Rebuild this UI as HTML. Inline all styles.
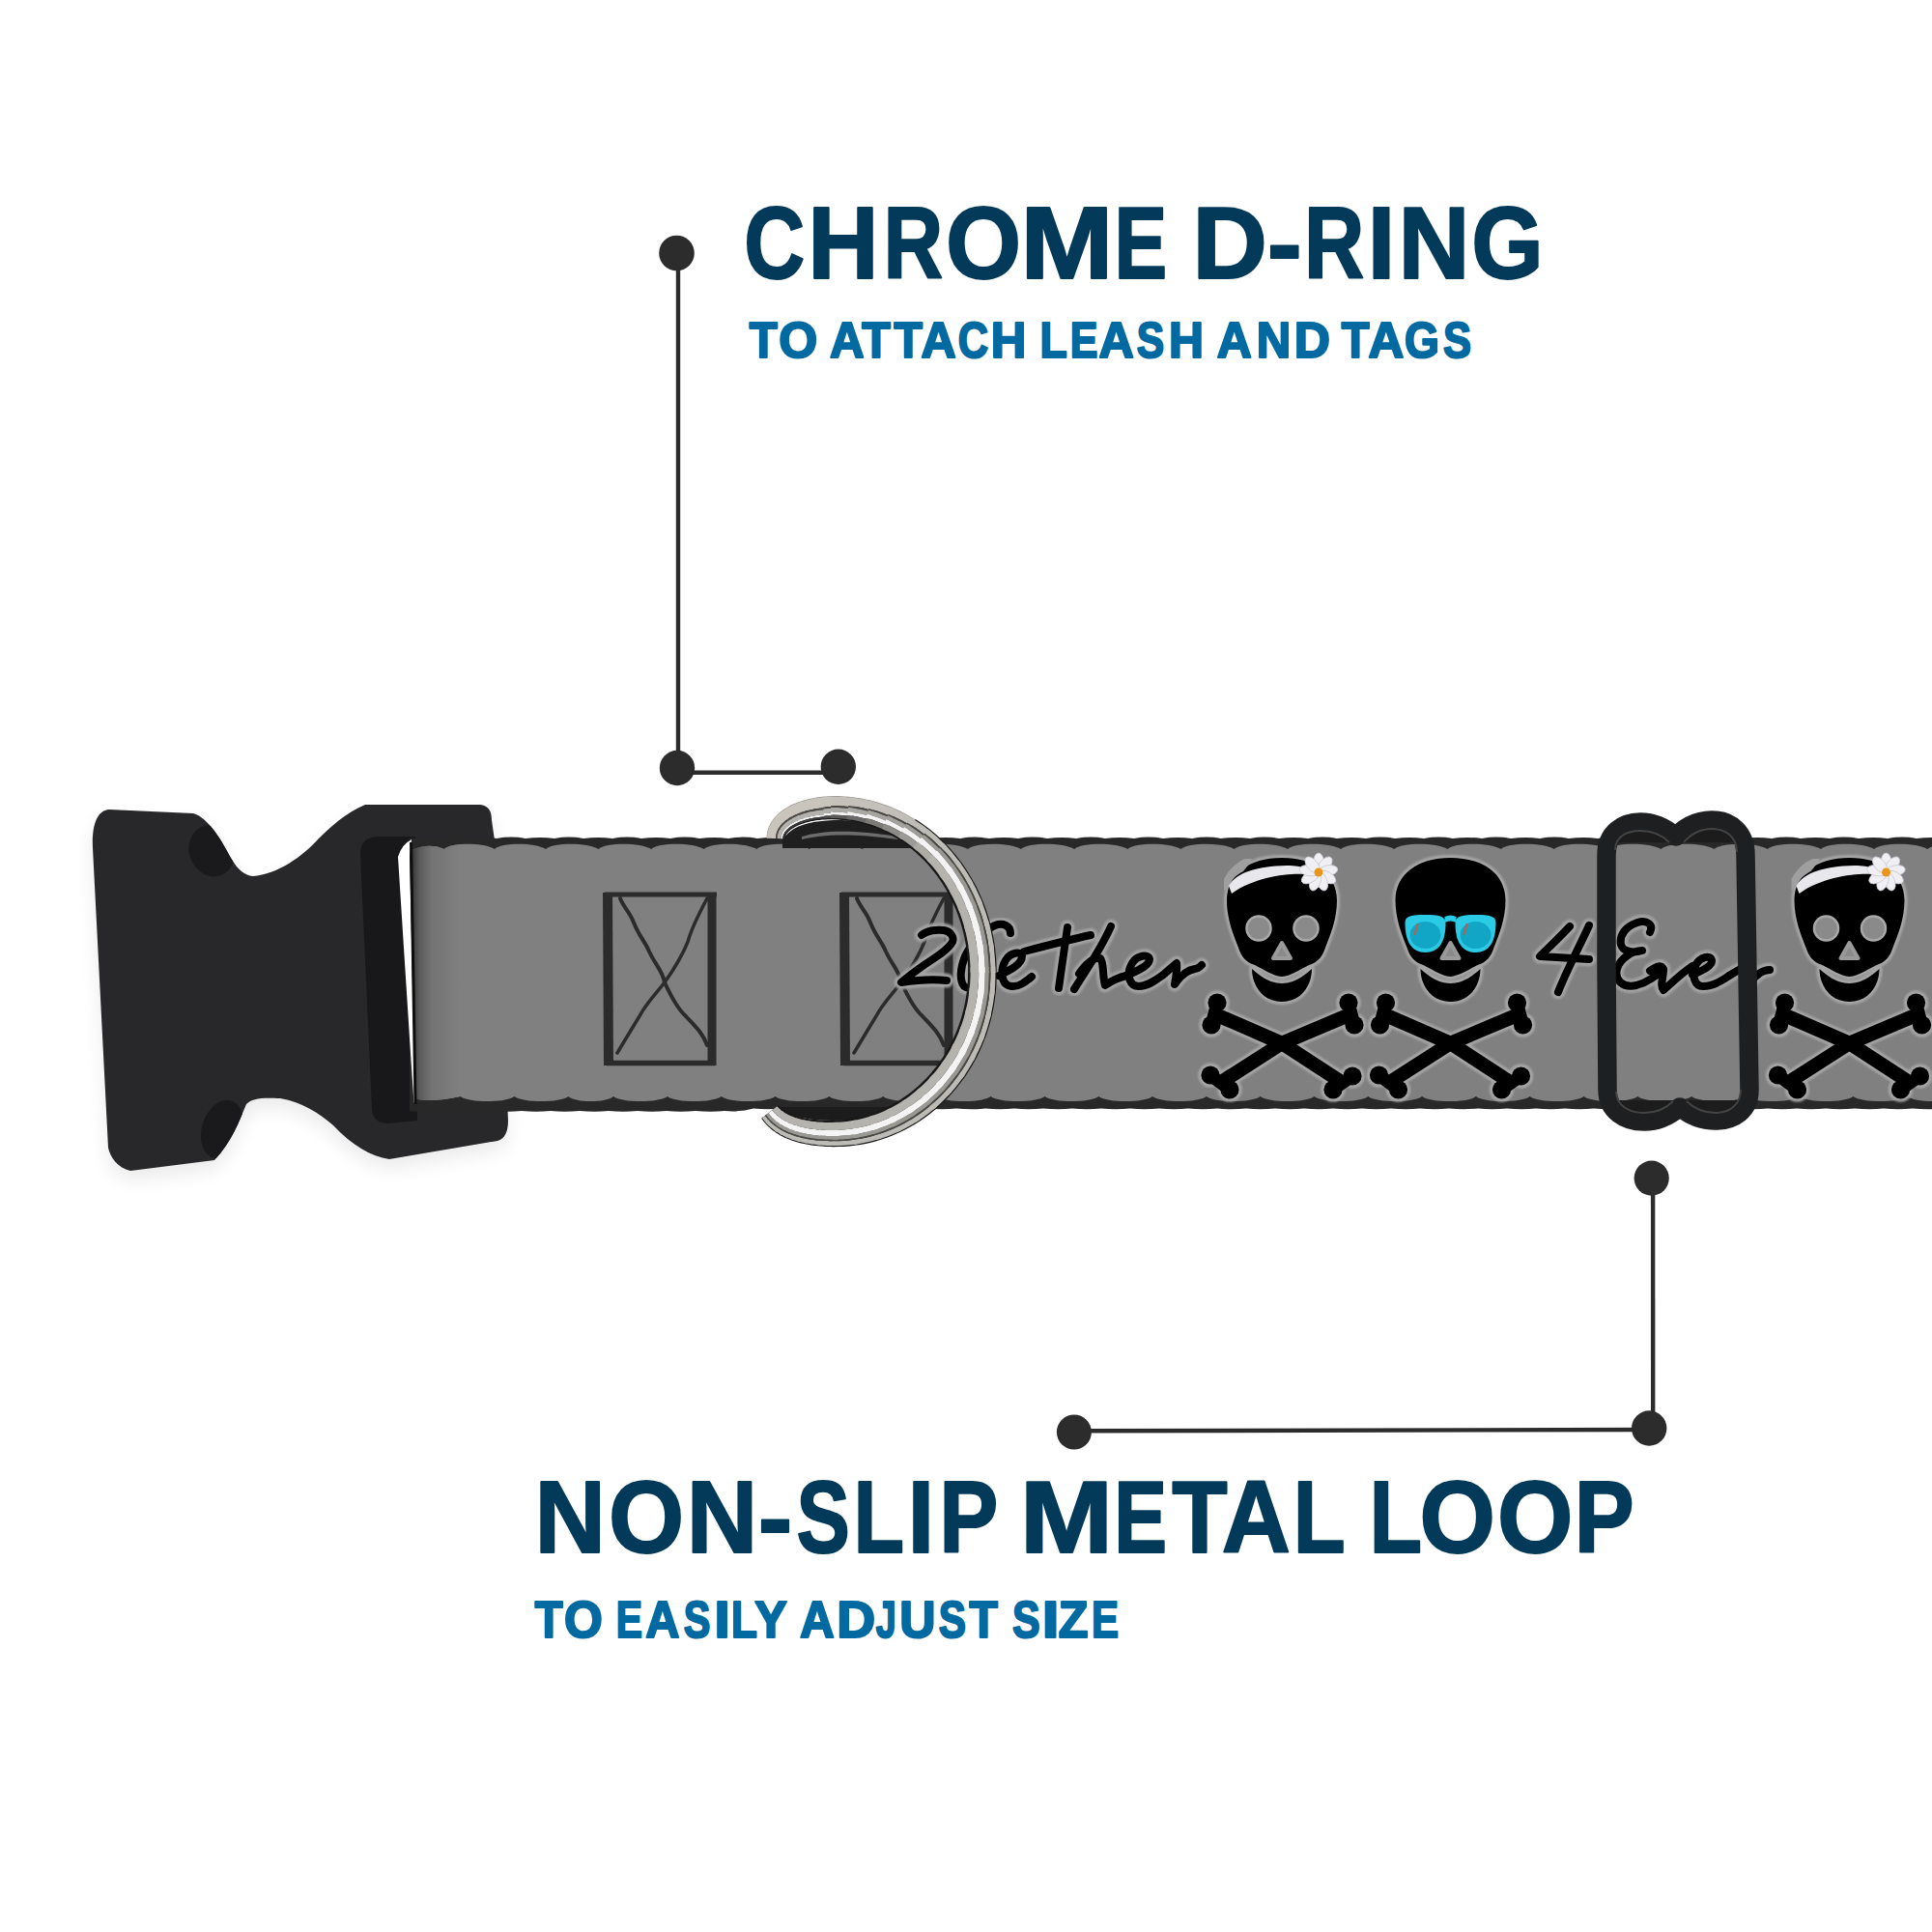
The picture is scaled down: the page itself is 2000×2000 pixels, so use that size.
<!DOCTYPE html>
<html><head><meta charset="utf-8"><style>
html,body{margin:0;padding:0;background:#fff;width:2000px;height:2000px;overflow:hidden}
svg{display:block}
.h{font-family:"Liberation Sans",sans-serif;font-weight:bold}
</style></head><body>
<svg width="2000" height="2000" viewBox="0 0 2000 2000">
<defs>
<linearGradient id="shL" x1="0" x2="1" y1="0" y2="0">
<stop offset="0" stop-color="#383838"/><stop offset="0.14" stop-color="#5a5a5a"/><stop offset="0.4" stop-color="#737373"/><stop offset="1" stop-color="#808080"/>
</linearGradient>
<filter id="blur1" x="-10%" y="-10%" width="120%" height="120%"><feGaussianBlur stdDeviation="1.1"/></filter>
<filter id="blur10" x="-20%" y="-20%" width="140%" height="140%"><feGaussianBlur stdDeviation="10"/></filter>
<clipPath id="bkclip"><path d="M113,838 L200,842 C212,845 225,862 235,881 C243,896 250,906 262,907 C287,905 313,887 330,868 C340,858 358,841 378,833 L497,833 Q509,834 509,849 L512,870 L526,1160 Q526,1178 515,1181 L403,1200 C384,1197 365,1186 345,1165 C330,1152 313,1141 290,1137 C270,1136 261,1137 255,1143 C248,1160 240,1182 222,1201 L135,1212 C122,1209 114,1198 112,1188 L96,878 C95,855 100,839 113,838 Z"/></clipPath>
<clipPath id="slclip"><rect x="1600" y="800" width="300" height="72"/><rect x="1600" y="1139" width="300" height="80"/></clipPath>
</defs>
<rect width="2000" height="2000" fill="#fff"/>

<g fill="#2c2c2c" stroke="#2c2c2c">
<line x1="702" y1="262" x2="702" y2="795" stroke-width="4.4"/>
<line x1="701" y1="799.7" x2="868" y2="799.7" stroke-width="4.4"/>
<circle cx="700.5" cy="262" r="18.3" stroke="none"/>
<circle cx="701" cy="795" r="18.2" stroke="none"/>
<circle cx="867.8" cy="793.8" r="18.2" stroke="none"/>
<line x1="1711.1" y1="1220" x2="1711.2" y2="1478" stroke-width="4.4"/>
<line x1="1112" y1="1481.3" x2="1707" y2="1480" stroke-width="4.4"/>
<circle cx="1709.7" cy="1219.6" r="18.1" stroke="none"/>
<circle cx="1111.9" cy="1482.5" r="18" stroke="none"/>
<circle cx="1707.2" cy="1478.5" r="18.2" stroke="none"/>
</g>

<g class="h">
<g font-size="105.67" fill="#033a5a" stroke="#033a5a" stroke-width="2.0" stroke-linejoin="round"><text transform="translate(770.25,288.0) scale(0.8257,1)" x="0" y="0">C</text><text transform="translate(836.36,288.0) scale(0.9622,1)" x="0" y="0">H</text><text transform="translate(914.39,288.0) scale(0.8093,1)" x="0" y="0">R</text><text transform="translate(979.03,288.0) scale(0.9506,1)" x="0" y="0">O</text><text transform="translate(1056.15,288.0) scale(1.0951,1)" x="0" y="0">M</text><text transform="translate(1153.59,288.0) scale(0.7767,1)" x="0" y="0">E</text><text transform="translate(1234.22,288.0) scale(1.0179,1)" x="0" y="0">D</text><text transform="translate(1311.69,288.0) scale(1.0267,1)" x="0" y="0">-</text><text transform="translate(1350.04,288.0) scale(0.8165,1)" x="0" y="0">R</text><text transform="translate(1415.41,288.0) scale(0.9872,1)" x="0" y="0">I</text><text transform="translate(1447.61,288.0) scale(0.9700,1)" x="0" y="0">N</text><text transform="translate(1523.18,288.0) scale(0.9058,1)" x="0" y="0">G</text></g>
<g font-size="52.47" fill="#036aa1" stroke="#036aa1" stroke-width="2.2" stroke-linejoin="round"><text transform="translate(775.86,369.5) scale(0.9064,1)" x="0" y="0">T</text><text transform="translate(806.37,369.5) scale(0.9804,1)" x="0" y="0">O</text><text transform="translate(859.01,369.5) scale(0.9411,1)" x="0" y="0">A</text><text transform="translate(892.17,369.5) scale(0.9245,1)" x="0" y="0">T</text><text transform="translate(925.47,369.5) scale(0.9215,1)" x="0" y="0">T</text><text transform="translate(953.60,369.5) scale(0.9571,1)" x="0" y="0">A</text><text transform="translate(991.83,369.5) scale(0.8245,1)" x="0" y="0">C</text><text transform="translate(1025.67,369.5) scale(0.9683,1)" x="0" y="0">H</text><text transform="translate(1076.57,369.5) scale(0.8858,1)" x="0" y="0">L</text><text transform="translate(1107.73,369.5) scale(0.8186,1)" x="0" y="0">E</text><text transform="translate(1137.50,369.5) scale(0.9571,1)" x="0" y="0">A</text><text transform="translate(1176.87,369.5) scale(0.8116,1)" x="0" y="0">S</text><text transform="translate(1210.10,369.5) scale(0.9532,1)" x="0" y="0">H</text><text transform="translate(1259.80,369.5) scale(0.9518,1)" x="0" y="0">A</text><text transform="translate(1300.64,369.5) scale(0.9380,1)" x="0" y="0">N</text><text transform="translate(1339.83,369.5) scale(0.9831,1)" x="0" y="0">D</text><text transform="translate(1388.86,369.5) scale(0.9003,1)" x="0" y="0">T</text><text transform="translate(1416.50,369.5) scale(0.9705,1)" x="0" y="0">A</text><text transform="translate(1454.07,369.5) scale(0.8828,1)" x="0" y="0">G</text><text transform="translate(1494.06,369.5) scale(0.8294,1)" x="0" y="0">S</text></g>
<g font-size="105.38" fill="#033a5a" stroke="#033a5a" stroke-width="2.0" stroke-linejoin="round"><text transform="translate(553.46,1606.8) scale(0.9648,1)" x="0" y="0">N</text><text transform="translate(630.03,1606.8) scale(0.9532,1)" x="0" y="0">O</text><text transform="translate(710.65,1606.8) scale(0.9664,1)" x="0" y="0">N</text><text transform="translate(784.84,1606.8) scale(1.0154,1)" x="0" y="0">-</text><text transform="translate(824.40,1606.8) scale(0.7876,1)" x="0" y="0">S</text><text transform="translate(883.56,1606.8) scale(0.8167,1)" x="0" y="0">L</text><text transform="translate(939.56,1606.8) scale(0.9488,1)" x="0" y="0">I</text><text transform="translate(972.14,1606.8) scale(0.8696,1)" x="0" y="0">P</text><text transform="translate(1055.85,1606.8) scale(1.0993,1)" x="0" y="0">M</text><text transform="translate(1153.28,1606.8) scale(0.7804,1)" x="0" y="0">E</text><text transform="translate(1213.24,1606.8) scale(0.8914,1)" x="0" y="0">T</text><text transform="translate(1264.78,1606.8) scale(0.9354,1)" x="0" y="0">A</text><text transform="translate(1338.83,1606.8) scale(0.8381,1)" x="0" y="0">L</text><text transform="translate(1417.57,1606.8) scale(0.8488,1)" x="0" y="0">L</text><text transform="translate(1469.62,1606.8) scale(0.9572,1)" x="0" y="0">O</text><text transform="translate(1549.92,1606.8) scale(0.9572,1)" x="0" y="0">O</text><text transform="translate(1629.77,1606.8) scale(0.8810,1)" x="0" y="0">P</text></g>
<g font-size="52.91" fill="#036aa1" stroke="#036aa1" stroke-width="2.2" stroke-linejoin="round"><text transform="translate(553.75,1694.7) scale(0.8934,1)" x="0" y="0">T</text><text transform="translate(584.06,1694.7) scale(0.9676,1)" x="0" y="0">O</text><text transform="translate(637.82,1694.7) scale(0.7716,1)" x="0" y="0">E</text><text transform="translate(668.20,1694.7) scale(0.9232,1)" x="0" y="0">A</text><text transform="translate(707.77,1694.7) scale(0.7818,1)" x="0" y="0">S</text><text transform="translate(739.42,1694.7) scale(1.0997,1)" x="0" y="0">I</text><text transform="translate(756.96,1694.7) scale(0.8347,1)" x="0" y="0">L</text><text transform="translate(781.19,1694.7) scale(0.9515,1)" x="0" y="0">Y</text><text transform="translate(828.00,1694.7) scale(0.9364,1)" x="0" y="0">A</text><text transform="translate(866.35,1694.7) scale(1.0448,1)" x="0" y="0">D</text><text transform="translate(906.81,1694.7) scale(0.7130,1)" x="0" y="0">J</text><text transform="translate(931.17,1694.7) scale(0.9764,1)" x="0" y="0">U</text><text transform="translate(971.86,1694.7) scale(0.7995,1)" x="0" y="0">S</text><text transform="translate(1003.46,1694.7) scale(0.9114,1)" x="0" y="0">T</text><text transform="translate(1047.96,1694.7) scale(0.8113,1)" x="0" y="0">S</text><text transform="translate(1078.87,1694.7) scale(1.2015,1)" x="0" y="0">I</text><text transform="translate(1095.85,1694.7) scale(0.9517,1)" x="0" y="0">Z</text><text transform="translate(1130.06,1694.7) scale(0.7935,1)" x="0" y="0">E</text></g>
</g>

<path d="M113,838 L200,842 C212,845 225,862 235,881 C243,896 250,906 262,907 C287,905 313,887 330,868 C340,858 358,841 378,833 L497,833 Q509,834 509,849 L512,870 L526,1160 Q526,1178 515,1181 L403,1200 C384,1197 365,1186 345,1165 C330,1152 313,1141 290,1137 C270,1136 261,1137 255,1143 C248,1160 240,1182 222,1201 L135,1212 C122,1209 114,1198 112,1188 L96,878 C95,855 100,839 113,838 Z" fill="#000" opacity="0.08" transform="translate(0,10)" filter="url(#blur10)"/>
<path d="M113,838 L200,842 C212,845 225,862 235,881 C243,896 250,906 262,907 C287,905 313,887 330,868 C340,858 358,841 378,833 L497,833 Q509,834 509,849 L512,870 L526,1160 Q526,1178 515,1181 L403,1200 C384,1197 365,1186 345,1165 C330,1152 313,1141 290,1137 C270,1136 261,1137 255,1143 C248,1160 240,1182 222,1201 L135,1212 C122,1209 114,1198 112,1188 L96,878 C95,855 100,839 113,838 Z" fill="#28282a"/>
<g clip-path="url(#bkclip)">
<ellipse cx="219" cy="881" rx="23" ry="27" fill="#1a1a1c" transform="rotate(-22 219 881)"/>
<ellipse cx="230" cy="1169" rx="21" ry="31" fill="#1a1a1c" transform="rotate(18 230 1169)"/>
<path d="M373,884 Q373,866 392,866 L430,866 L432,1160 L402,1163 Q386,1163 385,1148 Z" fill="#18181a"/>
</g>

<path d="M424,868 Q439,866 454,868 Q469,865.2 484,868 Q499,866 514,868 Q529,865.2 544,868 Q559,866 574,868 Q589,865.2 604,868 Q619,866 634,868 Q649,865.2 664,868 Q679,866 694,868 Q709,865.2 724,868 Q739,866 754,868 Q769,865.2 784,868 Q799,866 814,868 Q829,865.2 844,868 Q859,866 874,868 Q889,865.2 904,868 Q919,866 934,868 Q949,865.2 964,868 Q979,866 994,868 Q1009,865.2 1024,868 Q1039,866 1054,868 Q1069,865.2 1084,868 Q1099,866 1114,868 Q1129,865.2 1144,868 Q1159,866 1174,868 Q1189,865.2 1204,868 Q1219,866 1234,868 Q1249,865.2 1264,868 Q1279,866 1294,868 Q1309,865.2 1324,868 Q1339,866 1354,868 Q1369,865.2 1384,868 Q1399,866 1414,868 Q1429,865.2 1444,868 Q1459,866 1474,868 Q1489,865.2 1504,868 Q1519,866 1534,868 Q1549,865.2 1564,868 Q1579,866 1594,868 Q1609,865.2 1624,868 Q1639,866 1654,868 Q1669,865.2 1684,868 Q1699,866 1714,868 Q1729,865.2 1744,868 Q1759,866 1774,868 Q1789,865.2 1804,868 Q1819,866 1834,868 Q1849,865.2 1864,868 Q1879,866 1894,868 Q1909,865.2 1924,868 Q1939,866 1954,868 Q1969,865.2 1984,868 Q1999,866 2014,868 Q2029,865.2 2044,868 Q2059,866 2074,868 Q2089,865.2 2104,868 L2100,1146 Q2085,1149.0 2070,1147.5 Q2055,1149.0 2040,1147.5 Q2025,1149.0 2010,1147.5 Q1995,1149.0 1980,1147.5 Q1965,1149.0 1950,1147.5 Q1935,1149.0 1920,1147.5 Q1905,1149.0 1890,1147.5 Q1875,1149.0 1860,1147.5 Q1845,1149.0 1830,1147.5 Q1815,1149.0 1800,1147.5 Q1785,1149.0 1770,1147.5 Q1755,1149.0 1740,1147.5 Q1725,1149.0 1710,1147.5 Q1695,1149.0 1680,1147.5 Q1665,1149.0 1650,1147.5 Q1635,1149.0 1620,1147.5 Q1605,1149.0 1590,1147.5 Q1575,1149.0 1560,1147.5 Q1545,1149.0 1530,1147.5 Q1515,1149.0 1500,1147.5 Q1485,1149.0 1470,1147.5 Q1455,1149.0 1440,1147.5 Q1425,1149.0 1410,1147.5 Q1395,1149.0 1380,1147.5 Q1365,1149.0 1350,1147.5 Q1335,1149.0 1320,1147.5 Q1305,1149.0 1290,1147.5 Q1275,1149.0 1260,1147.5 Q1245,1149.0 1230,1147.5 Q1215,1149.0 1200,1147.5 Q1185,1149.0 1170,1147.5 Q1155,1149.0 1140,1147.5 Q1125,1149.0 1110,1147.5 Q1095,1149.0 1080,1147.5 Q1065,1149.0 1050,1147.5 Q1035,1149.0 1020,1147.5 Q1005,1149.0 990,1147.5 Q975,1149.0 960,1147.5 Q945,1149.0 930,1147.5 Q915,1149.0 900,1147.5 Q885,1149.0 870,1147.5 Q855,1149.0 840,1147.5 Q825,1149.0 810,1147.5 Q795,1149.0 780,1147.5 Q765,1151.5 750,1150 Q735,1151.5 720,1150 Q705,1151.5 690,1150 Q675,1151.5 660,1150 Q645,1151.5 630,1150 Q615,1151.5 600,1150 Q585,1151.5 570,1150 Q555,1151.5 540,1150 Q525,1151.5 510,1150 Q495,1151.5 480,1150 Q465,1151.5 450,1150 Q435,1151.5 420,1150 L424,1150 Z" fill="#282828"/>
<path d="M426,880 Q445,872 460,879 C466.2,872.2 500.6,871.6 512,879 C518.4,872.2 553.3,871.6 565,879 C571.6,872.2 607.6,871.6 619.6,879 C626.2,872.2 662.2,871.6 674.2,879 C680.8,872.2 716.8,871.6 728.8,879 C735.4,872.2 771.4,871.6 783.4,879 C790,872.2 826,871.6 838,879 C844.6,872.2 880.6,871.6 892.6,879 C899.2,872.2 935.2,871.6 947.2,879 C953.8,872.2 989.8,871.6 1001.8,879 C1008.4,872.2 1044.9,871.6 1057,879 C1063.6,872.2 1100.1,871.6 1112.2,879 C1118.8,872.2 1155.3,871.6 1167.4,879 C1174,872.2 1210.5,871.6 1222.6,879 C1229.2,872.2 1265.7,871.6 1277.8,879 C1284.4,872.2 1320.9,871.6 1333,879 C1339.6,872.2 1376.1,871.6 1388.2,879 C1394.8,872.2 1431.3,871.6 1443.4,879 C1450,872.2 1486.5,871.6 1498.6,879 C1505.2,872.2 1541.7,871.6 1553.8,879 C1560.4,872.2 1596.9,871.6 1609,879 C1615.6,872.2 1652.1,871.6 1664.2,879 C1670.8,872.2 1707.3,871.6 1719.4,879 C1726,872.2 1762.5,871.6 1774.6,879 C1781.2,872.2 1817.7,871.6 1829.8,879 C1836.4,872.2 1872.9,871.6 1885,879 C1891.6,872.2 1928.1,871.6 1940.2,879 C1946.8,872.2 1983.3,871.6 1995.4,879 C2002,872.2 2038.5,871.6 2050.6,879 C2057.2,872.2 2093.7,871.6 2105.8,879 L2100,1140 C2133.3,1141.8 2094.3,1141.8 2085.9,1135 C2077.5,1141.8 2038.5,1141.8 2030.1,1135 C2021.7,1141.8 1982.7,1141.8 1974.3,1135 C1965.9,1141.8 1926.9,1141.8 1918.5,1135 C1910.1,1141.8 1871.1,1141.8 1862.7,1135 C1854.3,1141.8 1815.3,1141.8 1806.9,1135 C1798.5,1141.8 1759.5,1141.8 1751.1,1135 C1742.7,1141.8 1703.7,1141.8 1695.3,1135 C1686.9,1141.8 1647.9,1141.8 1639.5,1135 C1631.1,1141.8 1592.1,1141.8 1583.7,1135 C1575.3,1141.8 1536.3,1141.8 1527.9,1135 C1519.5,1141.8 1480.5,1141.8 1472.1,1135 C1463.7,1141.8 1424.7,1141.8 1416.3,1135 C1407.9,1141.8 1368.9,1141.8 1360.5,1135 C1352.1,1141.8 1313.1,1141.8 1304.7,1135 C1296.3,1141.8 1257.3,1141.8 1248.9,1135 C1240.5,1141.8 1201.5,1141.8 1193.1,1135 C1184.7,1141.8 1145.7,1141.8 1137.3,1135 C1128.9,1141.8 1089.9,1141.8 1081.5,1135 C1073.1,1141.8 1034.1,1141.8 1025.7,1135 C1017.3,1141.8 978.3,1141.8 969.9,1135 C961.5,1141.8 922.5,1141.8 914.1,1135 C905.7,1141.8 866.7,1141.8 858.3,1135 C849.9,1141.8 810.9,1141.8 802.5,1135 C794.1,1141.8 755.1,1141.8 746.7,1135 C738.3,1141.8 699.3,1141.8 690.9,1135 C682.5,1141.8 643.4,1141.8 635,1135 C628,1141.8 595.4,1141.8 588.4,1135 C580,1141.8 540.9,1141.8 532.5,1135 C524.1,1141.8 485,1141.8 476.6,1135 Q450,1141 432,1138 L429,1138 Z" fill="#808080"/>
<clipPath id="sgclip"><path d="M426,880 Q445,872 460,879 C466.2,872.2 500.6,871.6 512,879 C518.4,872.2 553.3,871.6 565,879 C571.6,872.2 607.6,871.6 619.6,879 C626.2,872.2 662.2,871.6 674.2,879 C680.8,872.2 716.8,871.6 728.8,879 C735.4,872.2 771.4,871.6 783.4,879 C790,872.2 826,871.6 838,879 C844.6,872.2 880.6,871.6 892.6,879 C899.2,872.2 935.2,871.6 947.2,879 C953.8,872.2 989.8,871.6 1001.8,879 C1008.4,872.2 1044.9,871.6 1057,879 C1063.6,872.2 1100.1,871.6 1112.2,879 C1118.8,872.2 1155.3,871.6 1167.4,879 C1174,872.2 1210.5,871.6 1222.6,879 C1229.2,872.2 1265.7,871.6 1277.8,879 C1284.4,872.2 1320.9,871.6 1333,879 C1339.6,872.2 1376.1,871.6 1388.2,879 C1394.8,872.2 1431.3,871.6 1443.4,879 C1450,872.2 1486.5,871.6 1498.6,879 C1505.2,872.2 1541.7,871.6 1553.8,879 C1560.4,872.2 1596.9,871.6 1609,879 C1615.6,872.2 1652.1,871.6 1664.2,879 C1670.8,872.2 1707.3,871.6 1719.4,879 C1726,872.2 1762.5,871.6 1774.6,879 C1781.2,872.2 1817.7,871.6 1829.8,879 C1836.4,872.2 1872.9,871.6 1885,879 C1891.6,872.2 1928.1,871.6 1940.2,879 C1946.8,872.2 1983.3,871.6 1995.4,879 C2002,872.2 2038.5,871.6 2050.6,879 C2057.2,872.2 2093.7,871.6 2105.8,879 L2100,1140 C2133.3,1141.8 2094.3,1141.8 2085.9,1135 C2077.5,1141.8 2038.5,1141.8 2030.1,1135 C2021.7,1141.8 1982.7,1141.8 1974.3,1135 C1965.9,1141.8 1926.9,1141.8 1918.5,1135 C1910.1,1141.8 1871.1,1141.8 1862.7,1135 C1854.3,1141.8 1815.3,1141.8 1806.9,1135 C1798.5,1141.8 1759.5,1141.8 1751.1,1135 C1742.7,1141.8 1703.7,1141.8 1695.3,1135 C1686.9,1141.8 1647.9,1141.8 1639.5,1135 C1631.1,1141.8 1592.1,1141.8 1583.7,1135 C1575.3,1141.8 1536.3,1141.8 1527.9,1135 C1519.5,1141.8 1480.5,1141.8 1472.1,1135 C1463.7,1141.8 1424.7,1141.8 1416.3,1135 C1407.9,1141.8 1368.9,1141.8 1360.5,1135 C1352.1,1141.8 1313.1,1141.8 1304.7,1135 C1296.3,1141.8 1257.3,1141.8 1248.9,1135 C1240.5,1141.8 1201.5,1141.8 1193.1,1135 C1184.7,1141.8 1145.7,1141.8 1137.3,1135 C1128.9,1141.8 1089.9,1141.8 1081.5,1135 C1073.1,1141.8 1034.1,1141.8 1025.7,1135 C1017.3,1141.8 978.3,1141.8 969.9,1135 C961.5,1141.8 922.5,1141.8 914.1,1135 C905.7,1141.8 866.7,1141.8 858.3,1135 C849.9,1141.8 810.9,1141.8 802.5,1135 C794.1,1141.8 755.1,1141.8 746.7,1135 C738.3,1141.8 699.3,1141.8 690.9,1135 C682.5,1141.8 643.4,1141.8 635,1135 C628,1141.8 595.4,1141.8 588.4,1135 C580,1141.8 540.9,1141.8 532.5,1135 C524.1,1141.8 485,1141.8 476.6,1135 Q450,1141 432,1138 L429,1138 Z"/></clipPath><rect x="427" y="868" width="50" height="276" fill="url(#shL)" clip-path="url(#sgclip)"/>
<path d="M426,869 Q416,874 412,887 L416,950 L425,1090 L428.5,1142 L431,1142 L428.5,1090 L425.5,950 L424,887 Z" fill="#fff"/>
<path d="M424,872 L427,872 L431.5,1143 L428.5,1143 Z" fill="#0e0e0e"/>

<g fill="none" stroke="#2c2b2b" stroke-linejoin="miter"><path d="M626,926 L742,926" stroke-width="5"/><path d="M628,1100.5 L740,1100.5" stroke-width="5.5"/><path d="M629,924 L630,1103" stroke-width="10"/><path d="M737,924 L737,1103" stroke-width="9"/><path d="M642,930 C646,940 652,944 656,955 C662,970 668,975 672,985 C679,1000 686,1005 688,1017 C694,1030 702,1045 710,1052 C720,1063 728,1070 732,1082" stroke-width="4" stroke-linecap="round"/><path d="M732,930 C724,945 716,960 712,975 C706,990 700,1000 688,1017 C678,1030 668,1040 662,1052 C654,1065 648,1075 639,1090" stroke-width="3.5" stroke-linecap="round"/></g>
<g fill="none" stroke="#2c2b2b" stroke-linejoin="miter"><path d="M871,926 L987,926" stroke-width="5"/><path d="M873,1100.5 L985,1100.5" stroke-width="5.5"/><path d="M874,924 L875,1103" stroke-width="10"/><path d="M982,924 L982,1103" stroke-width="9"/><path d="M887,930 C891,940 897,944 901,955 C907,970 913,975 917,985 C924,1000 931,1005 933,1017 C939,1030 947,1045 955,1052 C965,1063 973,1070 977,1082" stroke-width="4" stroke-linecap="round"/><path d="M977,930 C969,945 961,960 957,975 C951,990 945,1000 933,1017 C923,1030 913,1040 907,1052 C899,1065 893,1075 884,1090" stroke-width="3.5" stroke-linecap="round"/></g>

<g filter="url(#blur1)" fill="none" stroke="#a3a3a3" stroke-width="14.5" stroke-linecap="round" stroke-linejoin="round"><path d="M954,968 C960,963 970,962 977,963 C984,964 988,970 986,975 C982,983 970,990 958,998 C948,1005 940,1011 933,1017 C946,1015 962,1013 980,1015"/><path d="M1046,966 C1046,958 1038,955 1030,958 C1018,963 1006,975 999,990 C994,1002 993,1015 998,1021 C1003,1025 1010,1020 1014,1012"/><path d="M1034,1010 C1046,1004 1058,998 1058,990 C1057,984 1046,986 1041,994 C1035,1004 1036,1020 1047,1021 C1055,1022 1062,1016 1068,1011"/><path d="M1105,960 C1102,980 1099,1002 1096,1023"/><path d="M1060,985 C1083,979 1106,973 1129,968"/><path d="M1150,959 C1140,982 1124,1005 1112,1024"/><path d="M1117,1008 C1124,998 1133,990 1139,992 C1143,996 1141,1010 1144,1020 C1150,1016 1157,1012 1166,1010"/><path d="M1166,1010 C1177,1005 1190,1000 1190,993 C1189,987 1177,989 1172,997 C1166,1007 1168,1021 1179,1021 C1188,1021 1196,1015 1203,1010"/><path d="M1203,1010 C1208,1006 1213,1001 1218,997 C1219,1004 1217,1012 1216,1019 C1222,1010 1230,1004 1237,1003 C1240,1003 1242,1001 1244,999"/></g><g fill="none" stroke="#000" stroke-width="8" stroke-linecap="round" stroke-linejoin="round"><path d="M954,968 C960,963 970,962 977,963 C984,964 988,970 986,975 C982,983 970,990 958,998 C948,1005 940,1011 933,1017 C946,1015 962,1013 980,1015"/><path d="M1046,966 C1046,958 1038,955 1030,958 C1018,963 1006,975 999,990 C994,1002 993,1015 998,1021 C1003,1025 1010,1020 1014,1012"/><path d="M1034,1010 C1046,1004 1058,998 1058,990 C1057,984 1046,986 1041,994 C1035,1004 1036,1020 1047,1021 C1055,1022 1062,1016 1068,1011"/><path d="M1105,960 C1102,980 1099,1002 1096,1023"/><path d="M1060,985 C1083,979 1106,973 1129,968"/><path d="M1150,959 C1140,982 1124,1005 1112,1024"/><path d="M1117,1008 C1124,998 1133,990 1139,992 C1143,996 1141,1010 1144,1020 C1150,1016 1157,1012 1166,1010"/><path d="M1166,1010 C1177,1005 1190,1000 1190,993 C1189,987 1177,989 1172,997 C1166,1007 1168,1021 1179,1021 C1188,1021 1196,1015 1203,1010"/><path d="M1203,1010 C1208,1006 1213,1001 1218,997 C1219,1004 1217,1012 1216,1019 C1222,1010 1230,1004 1237,1003 C1240,1003 1242,1001 1244,999"/></g>
<g filter="url(#blur1)" fill="none" stroke="#a3a3a3" stroke-width="14.5" stroke-linecap="round" stroke-linejoin="round"><path d="M1625,959 C1615,970 1604,980 1594,990 C1612,991 1628,992 1645,993"/><path d="M1645,958 C1635,980 1622,1004 1613,1027"/><path d="M1708,965 C1712,957 1705,952 1695,955 C1683,959 1676,968 1678,978 C1680,985 1690,987 1700,984 C1690,984 1677,992 1674,1003 C1671,1015 1680,1023 1694,1020 C1705,1017 1715,1010 1722,1003"/><path d="M1708,1005 C1715,1000 1720,998 1722,1004 C1722,1012 1718,1020 1722,1025 C1730,1018 1740,1008 1752,1000"/><path d="M1752,1009 C1762,1005 1773,1000 1772,994 C1770,988 1760,991 1756,998 C1751,1007 1753,1021 1763,1021 C1772,1021 1783,1015 1790,1010"/><path d="M1790,1010 C1798,1005 1806,1000 1812,1000 C1812,1008 1810,1016 1809,1022 C1815,1012 1822,1004 1832,1004"/></g><g fill="none" stroke="#000" stroke-width="8" stroke-linecap="round" stroke-linejoin="round"><path d="M1625,959 C1615,970 1604,980 1594,990 C1612,991 1628,992 1645,993"/><path d="M1645,958 C1635,980 1622,1004 1613,1027"/><path d="M1708,965 C1712,957 1705,952 1695,955 C1683,959 1676,968 1678,978 C1680,985 1690,987 1700,984 C1690,984 1677,992 1674,1003 C1671,1015 1680,1023 1694,1020 C1705,1017 1715,1010 1722,1003"/><path d="M1708,1005 C1715,1000 1720,998 1722,1004 C1722,1012 1718,1020 1722,1025 C1730,1018 1740,1008 1752,1000"/><path d="M1752,1009 C1762,1005 1773,1000 1772,994 C1770,988 1760,991 1756,998 C1751,1007 1753,1021 1763,1021 C1772,1021 1783,1015 1790,1010"/><path d="M1790,1010 C1798,1005 1806,1000 1812,1000 C1812,1008 1810,1016 1809,1022 C1815,1012 1822,1004 1832,1004"/></g>

<g filter="url(#blur1)"><g fill="#a7a7a7" stroke="#a7a7a7" stroke-width="6" stroke-linejoin="round"><path d="M1327,888 C1361,888 1384,905 1384,932 C1384,952 1377,968 1372,981 C1369,990 1365,996 1355,999 C1345,1004 1337,1010 1327,1011 C1317,1010 1309,1004 1299,999 C1289,996 1285,990 1282,981 C1277,968 1270,952 1270,932 C1270,905 1293,888 1327,888 Z"/><path d="M1296,1003 C1307,1013 1317,1018 1327,1018 C1337,1018 1347,1013 1358,1003 C1358,1020 1347,1037 1327,1037 C1307,1037 1296,1020 1296,1003 Z"/><circle cx="1260" cy="1038" r="9.6"/><circle cx="1254" cy="1061" r="9.6"/><circle cx="1396" cy="1038" r="9.6"/><circle cx="1402" cy="1061" r="9.6"/><circle cx="1253" cy="1113" r="9.6"/><circle cx="1273" cy="1128" r="9.6"/><circle cx="1400" cy="1114" r="9.6"/><circle cx="1380" cy="1128" r="9.6"/></g><g fill="none" stroke="#a7a7a7" stroke-width="20" stroke-linejoin="round"><path d="M1258,1050 L1327,1080 L1390,1121"/><path d="M1398,1050 L1327,1080 L1263,1121"/><path d="M1260,1038 L1254,1061 M1396,1038 L1402,1061 M1253,1113 L1273,1128 M1400,1114 L1380,1128 " stroke-width="13" stroke-linecap="round"/></g></g><g fill="#000"><path d="M1327,888 C1361,888 1384,905 1384,932 C1384,952 1377,968 1372,981 C1369,990 1365,996 1355,999 C1345,1004 1337,1010 1327,1011 C1317,1010 1309,1004 1299,999 C1289,996 1285,990 1282,981 C1277,968 1270,952 1270,932 C1270,905 1293,888 1327,888 Z"/><path d="M1296,1003 C1307,1013 1317,1018 1327,1018 C1337,1018 1347,1013 1358,1003 C1358,1020 1347,1037 1327,1037 C1307,1037 1296,1020 1296,1003 Z"/><circle cx="1260" cy="1038" r="9.6"/><circle cx="1254" cy="1061" r="9.6"/><circle cx="1396" cy="1038" r="9.6"/><circle cx="1402" cy="1061" r="9.6"/><circle cx="1253" cy="1113" r="9.6"/><circle cx="1273" cy="1128" r="9.6"/><circle cx="1400" cy="1114" r="9.6"/><circle cx="1380" cy="1128" r="9.6"/></g><g fill="none" stroke="#000" stroke-width="14.5" stroke-linejoin="round"><path d="M1258,1050 L1327,1080 L1390,1121"/><path d="M1398,1050 L1327,1080 L1263,1121"/><path d="M1260,1038 L1254,1061 M1396,1038 L1402,1061 M1253,1113 L1273,1128 M1400,1114 L1380,1128 " stroke-width="13" stroke-linecap="round"/></g><g fill="#8a8a8a" stroke="#a9a9a9" stroke-width="2.5"><circle cx="1303" cy="961" r="12.5"/><circle cx="1352" cy="961" r="12.5"/></g><g fill="#8a8a8a" stroke="#9a9a9a" stroke-width="4" stroke-linejoin="round"><path d="M1327,976 L1318,992 L1336,992 Z"/></g><path d="M1267,922 L1267,910 C1271,902 1279,893 1289,889 L1296,889 C1294,893 1291,897 1287,902 C1281,905 1275,910 1272,917 Z" fill="#9f9f9f"/><path d="M1272,917 C1280,903 1300,897 1332,896 C1341,896 1347,897 1351,899 L1350,905 C1332,904 1299,908 1275,925 Z" fill="#e8e8ec"/><g transform="translate(1365,903)"><ellipse cx="0" cy="-10" rx="5.5" ry="10" fill="#f0f0f4" stroke="#c8c8d2" stroke-width="0.8" transform="rotate(0)"/><ellipse cx="0" cy="-10" rx="5.5" ry="10" fill="#f0f0f4" stroke="#c8c8d2" stroke-width="0.8" transform="rotate(40)"/><ellipse cx="0" cy="-10" rx="5.5" ry="10" fill="#f0f0f4" stroke="#c8c8d2" stroke-width="0.8" transform="rotate(80)"/><ellipse cx="0" cy="-10" rx="5.5" ry="10" fill="#f0f0f4" stroke="#c8c8d2" stroke-width="0.8" transform="rotate(120)"/><ellipse cx="0" cy="-10" rx="5.5" ry="10" fill="#f0f0f4" stroke="#c8c8d2" stroke-width="0.8" transform="rotate(160)"/><ellipse cx="0" cy="-10" rx="5.5" ry="10" fill="#f0f0f4" stroke="#c8c8d2" stroke-width="0.8" transform="rotate(200)"/><ellipse cx="0" cy="-10" rx="5.5" ry="10" fill="#f0f0f4" stroke="#c8c8d2" stroke-width="0.8" transform="rotate(240)"/><ellipse cx="0" cy="-10" rx="5.5" ry="10" fill="#f0f0f4" stroke="#c8c8d2" stroke-width="0.8" transform="rotate(280)"/><ellipse cx="0" cy="-10" rx="5.5" ry="10" fill="#f0f0f4" stroke="#c8c8d2" stroke-width="0.8" transform="rotate(320)"/><circle r="4.5" fill="#e8961e"/></g>
<g filter="url(#blur1)"><g fill="#a7a7a7" stroke="#a7a7a7" stroke-width="6" stroke-linejoin="round"><path d="M1501.5,888 C1535.5,888 1558.5,905 1558.5,932 C1558.5,952 1551.5,968 1546.5,981 C1543.5,990 1539.5,996 1529.5,999 C1519.5,1004 1511.5,1010 1501.5,1011 C1491.5,1010 1483.5,1004 1473.5,999 C1463.5,996 1459.5,990 1456.5,981 C1451.5,968 1444.5,952 1444.5,932 C1444.5,905 1467.5,888 1501.5,888 Z"/><path d="M1470.5,1003 C1481.5,1013 1491.5,1018 1501.5,1018 C1511.5,1018 1521.5,1013 1532.5,1003 C1532.5,1020 1521.5,1037 1501.5,1037 C1481.5,1037 1470.5,1020 1470.5,1003 Z"/><circle cx="1434.5" cy="1038" r="9.6"/><circle cx="1428.5" cy="1061" r="9.6"/><circle cx="1570.5" cy="1038" r="9.6"/><circle cx="1576.5" cy="1061" r="9.6"/><circle cx="1427.5" cy="1113" r="9.6"/><circle cx="1447.5" cy="1128" r="9.6"/><circle cx="1574.5" cy="1114" r="9.6"/><circle cx="1554.5" cy="1128" r="9.6"/></g><g fill="none" stroke="#a7a7a7" stroke-width="20" stroke-linejoin="round"><path d="M1432.5,1050 L1501.5,1080 L1564.5,1121"/><path d="M1572.5,1050 L1501.5,1080 L1437.5,1121"/><path d="M1434.5,1038 L1428.5,1061 M1570.5,1038 L1576.5,1061 M1427.5,1113 L1447.5,1128 M1574.5,1114 L1554.5,1128 " stroke-width="13" stroke-linecap="round"/></g></g><g fill="#000"><path d="M1501.5,888 C1535.5,888 1558.5,905 1558.5,932 C1558.5,952 1551.5,968 1546.5,981 C1543.5,990 1539.5,996 1529.5,999 C1519.5,1004 1511.5,1010 1501.5,1011 C1491.5,1010 1483.5,1004 1473.5,999 C1463.5,996 1459.5,990 1456.5,981 C1451.5,968 1444.5,952 1444.5,932 C1444.5,905 1467.5,888 1501.5,888 Z"/><path d="M1470.5,1003 C1481.5,1013 1491.5,1018 1501.5,1018 C1511.5,1018 1521.5,1013 1532.5,1003 C1532.5,1020 1521.5,1037 1501.5,1037 C1481.5,1037 1470.5,1020 1470.5,1003 Z"/><circle cx="1434.5" cy="1038" r="9.6"/><circle cx="1428.5" cy="1061" r="9.6"/><circle cx="1570.5" cy="1038" r="9.6"/><circle cx="1576.5" cy="1061" r="9.6"/><circle cx="1427.5" cy="1113" r="9.6"/><circle cx="1447.5" cy="1128" r="9.6"/><circle cx="1574.5" cy="1114" r="9.6"/><circle cx="1554.5" cy="1128" r="9.6"/></g><g fill="none" stroke="#000" stroke-width="14.5" stroke-linejoin="round"><path d="M1432.5,1050 L1501.5,1080 L1564.5,1121"/><path d="M1572.5,1050 L1501.5,1080 L1437.5,1121"/><path d="M1434.5,1038 L1428.5,1061 M1570.5,1038 L1576.5,1061 M1427.5,1113 L1447.5,1128 M1574.5,1114 L1554.5,1128 " stroke-width="13" stroke-linecap="round"/></g><g fill="#8a8a8a" stroke="#a9a9a9" stroke-width="2.5"><circle cx="1477.5" cy="961" r="12.5"/><circle cx="1526.5" cy="961" r="12.5"/></g><g fill="#8a8a8a" stroke="#9a9a9a" stroke-width="4" stroke-linejoin="round"><path d="M1501.5,976 L1492.5,992 L1510.5,992 Z"/></g><g fill="#2bcbe6"><path d="M1454.5,955 C1454.5,948 1461.5,947 1474.5,947 C1489.5,947 1496.5,948 1496.5,956 C1496.5,975 1489.5,986 1475.5,986 C1461.5,986 1454.5,975 1454.5,955 Z"/><path d="M1548.5,955 C1548.5,948 1541.5,947 1528.5,947 C1513.5,947 1506.5,948 1506.5,956 C1506.5,975 1513.5,986 1527.5,986 C1541.5,986 1548.5,975 1548.5,955 Z"/><path d="M1495.5,949 Q1501.5,946 1507.5,949 L1507.5,955 Q1501.5,952 1495.5,955 Z"/></g><g fill="#12a6c6"><ellipse cx="1475.5" cy="968" rx="16" ry="14"/><ellipse cx="1527.5" cy="968" rx="16" ry="14"/></g><g stroke="#b8604c" stroke-width="2.2" stroke-linecap="round"><line x1="1464.5" y1="967" x2="1467.5" y2="957"/><line x1="1515.5" y1="967" x2="1518.5" y2="957"/></g>
<g filter="url(#blur1)"><g fill="#a7a7a7" stroke="#a7a7a7" stroke-width="6" stroke-linejoin="round"><path d="M1914.5,888 C1948.5,888 1971.5,905 1971.5,932 C1971.5,952 1964.5,968 1959.5,981 C1956.5,990 1952.5,996 1942.5,999 C1932.5,1004 1924.5,1010 1914.5,1011 C1904.5,1010 1896.5,1004 1886.5,999 C1876.5,996 1872.5,990 1869.5,981 C1864.5,968 1857.5,952 1857.5,932 C1857.5,905 1880.5,888 1914.5,888 Z"/><path d="M1883.5,1003 C1894.5,1013 1904.5,1018 1914.5,1018 C1924.5,1018 1934.5,1013 1945.5,1003 C1945.5,1020 1934.5,1037 1914.5,1037 C1894.5,1037 1883.5,1020 1883.5,1003 Z"/><circle cx="1847.5" cy="1038" r="9.6"/><circle cx="1841.5" cy="1061" r="9.6"/><circle cx="1983.5" cy="1038" r="9.6"/><circle cx="1989.5" cy="1061" r="9.6"/><circle cx="1840.5" cy="1113" r="9.6"/><circle cx="1860.5" cy="1128" r="9.6"/><circle cx="1987.5" cy="1114" r="9.6"/><circle cx="1967.5" cy="1128" r="9.6"/></g><g fill="none" stroke="#a7a7a7" stroke-width="20" stroke-linejoin="round"><path d="M1845.5,1050 L1914.5,1080 L1977.5,1121"/><path d="M1985.5,1050 L1914.5,1080 L1850.5,1121"/><path d="M1847.5,1038 L1841.5,1061 M1983.5,1038 L1989.5,1061 M1840.5,1113 L1860.5,1128 M1987.5,1114 L1967.5,1128 " stroke-width="13" stroke-linecap="round"/></g></g><g fill="#000"><path d="M1914.5,888 C1948.5,888 1971.5,905 1971.5,932 C1971.5,952 1964.5,968 1959.5,981 C1956.5,990 1952.5,996 1942.5,999 C1932.5,1004 1924.5,1010 1914.5,1011 C1904.5,1010 1896.5,1004 1886.5,999 C1876.5,996 1872.5,990 1869.5,981 C1864.5,968 1857.5,952 1857.5,932 C1857.5,905 1880.5,888 1914.5,888 Z"/><path d="M1883.5,1003 C1894.5,1013 1904.5,1018 1914.5,1018 C1924.5,1018 1934.5,1013 1945.5,1003 C1945.5,1020 1934.5,1037 1914.5,1037 C1894.5,1037 1883.5,1020 1883.5,1003 Z"/><circle cx="1847.5" cy="1038" r="9.6"/><circle cx="1841.5" cy="1061" r="9.6"/><circle cx="1983.5" cy="1038" r="9.6"/><circle cx="1989.5" cy="1061" r="9.6"/><circle cx="1840.5" cy="1113" r="9.6"/><circle cx="1860.5" cy="1128" r="9.6"/><circle cx="1987.5" cy="1114" r="9.6"/><circle cx="1967.5" cy="1128" r="9.6"/></g><g fill="none" stroke="#000" stroke-width="14.5" stroke-linejoin="round"><path d="M1845.5,1050 L1914.5,1080 L1977.5,1121"/><path d="M1985.5,1050 L1914.5,1080 L1850.5,1121"/><path d="M1847.5,1038 L1841.5,1061 M1983.5,1038 L1989.5,1061 M1840.5,1113 L1860.5,1128 M1987.5,1114 L1967.5,1128 " stroke-width="13" stroke-linecap="round"/></g><g fill="#8a8a8a" stroke="#a9a9a9" stroke-width="2.5"><circle cx="1890.5" cy="961" r="12.5"/><circle cx="1939.5" cy="961" r="12.5"/></g><g fill="#8a8a8a" stroke="#9a9a9a" stroke-width="4" stroke-linejoin="round"><path d="M1914.5,976 L1905.5,992 L1923.5,992 Z"/></g><path d="M1854.5,922 L1854.5,910 C1858.5,902 1866.5,893 1876.5,889 L1883.5,889 C1881.5,893 1878.5,897 1874.5,902 C1868.5,905 1862.5,910 1859.5,917 Z" fill="#9f9f9f"/><path d="M1859.5,917 C1867.5,903 1887.5,897 1919.5,896 C1928.5,896 1934.5,897 1938.5,899 L1937.5,905 C1919.5,904 1886.5,908 1862.5,925 Z" fill="#e8e8ec"/><g transform="translate(1952.5,903)"><ellipse cx="0" cy="-10" rx="5.5" ry="10" fill="#f0f0f4" stroke="#c8c8d2" stroke-width="0.8" transform="rotate(0)"/><ellipse cx="0" cy="-10" rx="5.5" ry="10" fill="#f0f0f4" stroke="#c8c8d2" stroke-width="0.8" transform="rotate(40)"/><ellipse cx="0" cy="-10" rx="5.5" ry="10" fill="#f0f0f4" stroke="#c8c8d2" stroke-width="0.8" transform="rotate(80)"/><ellipse cx="0" cy="-10" rx="5.5" ry="10" fill="#f0f0f4" stroke="#c8c8d2" stroke-width="0.8" transform="rotate(120)"/><ellipse cx="0" cy="-10" rx="5.5" ry="10" fill="#f0f0f4" stroke="#c8c8d2" stroke-width="0.8" transform="rotate(160)"/><ellipse cx="0" cy="-10" rx="5.5" ry="10" fill="#f0f0f4" stroke="#c8c8d2" stroke-width="0.8" transform="rotate(200)"/><ellipse cx="0" cy="-10" rx="5.5" ry="10" fill="#f0f0f4" stroke="#c8c8d2" stroke-width="0.8" transform="rotate(240)"/><ellipse cx="0" cy="-10" rx="5.5" ry="10" fill="#f0f0f4" stroke="#c8c8d2" stroke-width="0.8" transform="rotate(280)"/><ellipse cx="0" cy="-10" rx="5.5" ry="10" fill="#f0f0f4" stroke="#c8c8d2" stroke-width="0.8" transform="rotate(320)"/><circle r="4.5" fill="#e8961e"/></g>

<path d="M810,870 C818,855 838,849 870,849 C905,849 930,860 950,878 L810,878 Z" fill="#1f1f1f"/>
<path d="M830,866 C850,860 880,858 930,866 L930,869 C880,862 850,864 830,869 Z" fill="#6c6c6c"/>
<path d="M806,1146 L945,1146 C922,1156 895,1160 862,1160 C835,1160 818,1155 806,1149 Z" fill="#1c1c1c"/>
<path d="M794.1,867.7 L794.1,866.3 L794.3,864.6 L794.5,862.9 L794.8,861.3 L795.2,859.6 L795.7,858 L796.3,856.5 L797,855 L797.7,853.5 L798.5,852 L799.4,850.6 L800.3,849.2 L801.3,847.9 L802.4,846.6 L803.5,845.3 L804.7,844.1 L805.9,843 L807.2,841.8 L808.5,840.8 L809.9,839.7 L811.3,838.7 L812.8,837.7 L814.3,836.8 L815.8,835.9 L817.4,835 L819,834.2 L820.7,833.4 L822.3,832.7 L824.1,831.9 L825.8,831.3 L827.6,830.6 L829.4,830 L831.3,829.4 L833.2,828.9 L835.1,828.3 L837,827.9 L839,827.4 L841,827 L843,826.6 L845,826.3 L847.1,826 L849.2,825.7 L851.2,825.5 L853.4,825.2 L855.5,825.1 L857.7,825 L859.8,824.9 L862.1,824.8 L867.7,824.8 L873.5,825.1 L879.1,825.5 L884.7,826.1 L890.3,827 L895.8,828.1 L901.3,829.3 L906.7,830.8 L912,832.4 L917.2,834.2 L922.4,836.2 L927.5,838.4 L932.5,840.8 L937.4,843.3 L942.2,846 L947,848.9 L951.6,851.9 L956.2,855.1 L960.6,858.5 L965,862 L969.2,865.6 L973.3,869.4 L977.3,873.3 L981.2,877.4 L984.9,881.6 L988.5,886 L992,890.4 L995.4,895 L998.7,899.7 L1001.8,904.5 L1004.7,909.4 L1007.5,914.5 L1010.2,919.6 L1012.7,924.9 L1015.1,930.2 L1017.3,935.7 L1019.3,941.2 L1021.2,946.8 L1022.9,952.5 L1024.5,958.3 L1025.9,964.2 L1027.1,970.1 L1028.1,976.1 L1029,982.2 L1029.6,988.3 L1030.1,994.5 L1030.4,1000.7 L1030.5,1007 L1030.4,1013.1 L1030.2,1019.3 L1029.8,1025.3 L1029.1,1031.3 L1028.3,1037.2 L1027.3,1043.1 L1026.1,1048.9 L1024.8,1054.7 L1023.3,1060.3 L1021.6,1065.9 L1019.7,1071.4 L1017.7,1076.9 L1015.5,1082.2 L1013.1,1087.5 L1010.6,1092.6 L1008,1097.7 L1005.2,1102.6 L1002.2,1107.5 L999.2,1112.2 L995.9,1116.8 L992.6,1121.3 L989.1,1125.7 L985.4,1130 L981.7,1134.1 L977.8,1138.1 L973.8,1142 L969.7,1145.7 L965.4,1149.3 L961.1,1152.8 L956.7,1156.1 L952.1,1159.2 L947.4,1162.2 L942.7,1165 L937.8,1167.7 L932.9,1170.2 L927.8,1172.6 L922.7,1174.7 L917.5,1176.7 L912.3,1178.5 L906.9,1180.1 L901.5,1181.5 L896,1182.8 L890.5,1183.8 L884.9,1184.7 L879.2,1185.3 L873.5,1185.7 L867.8,1186 L862.2,1186 L860.1,1186 L858.2,1185.9 L856.3,1185.9 L854.4,1185.8 L852.5,1185.7 L850.6,1185.5 L848.8,1185.4 L846.9,1185.2 L845.1,1185 L843.3,1184.8 L841.5,1184.6 L839.7,1184.3 L837.9,1184 L836.2,1183.7 L834.4,1183.4 L832.7,1183.1 L831,1182.7 L829.3,1182.3 L827.6,1181.9 L826,1181.4 L824.3,1181 L822.7,1180.5 L821.1,1179.9 L819.5,1179.4 L817.9,1178.8 L816.4,1178.2 L814.8,1177.6 L813.3,1176.9 L811.9,1176.2 L810.4,1175.5 L808.9,1174.7 L807.5,1174 L806.1,1173.1 L804.8,1172.3 L803.4,1171.4 L802.1,1170.5 L800.8,1169.6 L799.6,1168.6 L798.4,1167.6 L797.2,1166.5 L796,1165.5 L794.9,1164.4 L793.8,1163.2 L792.7,1162.1 L791.7,1160.9 L790.7,1159.6 L789.8,1158.4 L789,1157.2 L805.8,1144.1 L806.5,1145 L807.2,1145.6 L807.8,1146.2 L808.5,1146.8 L809.2,1147.4 L809.9,1148 L810.7,1148.5 L811.5,1149.1 L812.2,1149.6 L813.1,1150.1 L813.9,1150.6 L814.8,1151.1 L815.7,1151.6 L816.6,1152 L817.5,1152.5 L818.5,1152.9 L819.5,1153.4 L820.5,1153.8 L821.5,1154.2 L822.6,1154.6 L823.7,1154.9 L824.8,1155.3 L826,1155.7 L827.1,1156 L828.3,1156.3 L829.5,1156.6 L830.8,1156.9 L832.1,1157.2 L833.3,1157.5 L834.7,1157.7 L836,1158 L837.4,1158.2 L838.8,1158.4 L840.2,1158.6 L841.6,1158.8 L843.1,1158.9 L844.5,1159.1 L846,1159.2 L847.5,1159.3 L849.1,1159.5 L850.6,1159.5 L852.2,1159.6 L853.8,1159.7 L855.4,1159.7 L857,1159.8 L858.7,1159.8 L860.3,1159.8 L861.8,1159.7 L866.8,1159.6 L871.6,1159.2 L876.3,1158.7 L881,1158 L885.6,1157.2 L890.2,1156.2 L894.7,1155 L899.1,1153.7 L903.5,1152.3 L907.8,1150.7 L912.1,1148.9 L916.3,1147.1 L920.4,1145 L924.4,1142.9 L928.4,1140.6 L932.3,1138.2 L936.1,1135.6 L939.9,1133 L943.5,1130.2 L947.1,1127.2 L950.6,1124.2 L954,1121.1 L957.3,1117.8 L960.5,1114.4 L963.6,1110.9 L966.6,1107.3 L969.6,1103.7 L972.4,1099.9 L975.1,1096 L977.6,1092 L980.1,1087.9 L982.5,1083.7 L984.7,1079.5 L986.8,1075.2 L988.8,1070.7 L990.7,1066.2 L992.4,1061.7 L994,1057 L995.5,1052.3 L996.8,1047.5 L998,1042.7 L999,1037.7 L999.9,1032.8 L1000.7,1027.7 L1001.3,1022.6 L1001.7,1017.5 L1002,1012.3 L1002.1,1007 L1002.1,1001.6 L1001.8,996.2 L1001.4,990.9 L1000.9,985.6 L1000.2,980.4 L999.3,975.2 L998.3,970.1 L997.1,965.1 L995.8,960.2 L994.4,955.3 L992.8,950.4 L991.1,945.7 L989.3,941 L987.3,936.4 L985.2,931.9 L983,927.5 L980.6,923.2 L978.2,919 L975.6,914.8 L972.9,910.8 L970.1,906.8 L967.2,903 L964.2,899.2 L961.1,895.6 L957.9,892.1 L954.6,888.7 L951.2,885.4 L947.7,882.3 L944.1,879.2 L940.4,876.3 L936.6,873.5 L932.8,870.8 L928.9,868.3 L924.9,865.9 L920.8,863.7 L916.7,861.6 L912.5,859.6 L908.2,857.8 L903.8,856.1 L899.4,854.6 L894.9,853.2 L890.4,852 L885.8,851 L881.2,850.1 L876.4,849.4 L871.7,848.9 L866.9,848.5 L861.9,848.3 L860.2,848.3 L858.4,848.3 L856.7,848.3 L854.9,848.4 L853.2,848.5 L851.5,848.6 L849.8,848.7 L848.2,848.9 L846.5,849.1 L844.9,849.3 L843.3,849.6 L841.8,849.9 L840.2,850.1 L838.7,850.5 L837.3,850.8 L835.8,851.2 L834.4,851.6 L833,852 L831.7,852.4 L830.4,852.8 L829.2,853.3 L828,853.8 L826.8,854.2 L825.7,854.8 L824.6,855.3 L823.6,855.8 L822.6,856.3 L821.6,856.9 L820.7,857.4 L819.9,858 L819.1,858.5 L818.3,859.1 L817.7,859.7 L817,860.2 L816.4,860.8 L815.9,861.3 L815.4,861.9 L814.9,862.4 L814.5,863 L814.1,863.5 L813.8,864.1 L813.6,864.6 L813.3,865.2 L813.1,865.7 L813,866.3 L812.9,866.8 L812.8,867.4 L812.8,868.3Z" fill="#181818"/>
<path d="M947.6,847.9 L952.3,851 L956.9,854.2 L961.3,857.6 L965.7,861.1 L970,864.8 L974.1,868.6 L978.1,872.5 L982,876.6 L985.8,880.9 L989.5,885.2 L993,889.7 L996.4,894.3 L999.6,899.1 L1002.8,903.9 L1005.7,908.9 L1008.6,913.9 L1011.3,919.1 L1013.8,924.4 L1016.2,929.8 L1018.4,935.2 L1020.5,940.8 L1022.4,946.4 L1024.1,952.2 L1025.7,958 L1027.1,963.9 L1028.3,969.9 L1029.3,975.9 L1030.2,982 L1030.8,988.2 L1031.3,994.4 L1031.6,1000.7 L1031.7,1007 L1031.7,1013.2 L1031.4,1019.3 L1031,1025.4 L1030.3,1031.5 L1029.5,1037.4 L1028.5,1043.4 L1027.3,1049.2 L1026,1055 L1024.4,1060.7 L1022.7,1066.3 L1020.9,1071.9 L1018.8,1077.3 L1016.6,1082.7 L1014.3,1088 L1011.8,1093.2 L1009.1,1098.3 L1006.3,1103.2 L1003.3,1108.1 L1000.2,1112.9 L996.9,1117.5 L993.5,1122.1 L990,1126.5 L986.4,1130.8 L982.6,1135 L978.7,1139 L974.6,1142.9 L970.5,1146.7 L966.2,1150.3 L961.9,1153.7 L957.4,1157.1 L952.8,1160.2 L948.1,1163.2 L943.3,1166.1 L938.4,1168.8 L933.4,1171.3 L928.3,1173.6 L923.2,1175.8 L918,1177.8 L912.6,1179.6 L907.3,1181.2 L901.8,1182.7 L896.3,1183.9 L890.7,1185 L885,1185.8 L879.4,1186.4 L873.6,1186.9 L867.8,1187.1 L862.2,1187.2 L860.1,1187.1 L858.1,1187 L856.2,1187 L854.3,1186.9 L852.4,1186.8 L850.6,1186.6 L848.7,1186.5 L846.8,1186.3 L845,1186.1 L843.2,1185.9 L841.4,1185.7 L839.6,1185.4 L837.8,1185.1 L836,1184.8 L834.2,1184.5 L832.5,1184.1 L830.8,1183.8 L829.1,1183.4 L827.4,1182.9 L825.7,1182.5 L824,1182 L822.4,1181.5 L820.8,1181 L819.2,1180.4 L817.6,1179.8 L816,1179.2 L814.5,1178.5 L812.9,1177.9 L811.4,1177.2 L810,1176.4 L808.5,1175.7 L807.1,1174.9 L805.6,1174 L804.3,1173.2 L802.9,1172.3 L801.6,1171.3 L800.3,1170.4 L799,1169.4 L797.8,1168.4 L796.6,1167.3 L795.4,1166.2 L794.2,1165.1 L793.1,1163.9 L792.1,1162.7 L791,1161.5 L790,1160.2 L789.1,1158.9 L788.2,1157.8 L789.8,1156.6 L790.6,1157.7 L791.5,1159 L792.5,1160.2 L793.5,1161.3 L794.5,1162.5 L795.6,1163.6 L796.7,1164.7 L797.8,1165.7 L799,1166.7 L800.2,1167.7 L801.5,1168.7 L802.7,1169.6 L804,1170.5 L805.3,1171.3 L806.7,1172.2 L808.1,1173 L809.4,1173.7 L810.9,1174.5 L812.3,1175.2 L813.8,1175.8 L815.3,1176.5 L816.8,1177.1 L818.3,1177.7 L819.9,1178.3 L821.4,1178.8 L823,1179.3 L824.6,1179.8 L826.2,1180.3 L827.9,1180.7 L829.6,1181.1 L831.2,1181.5 L832.9,1181.9 L834.6,1182.2 L836.4,1182.5 L838.1,1182.8 L839.9,1183.1 L841.6,1183.4 L843.4,1183.6 L845.2,1183.8 L847,1184 L848.9,1184.1 L850.7,1184.3 L852.6,1184.4 L854.4,1184.5 L856.3,1184.6 L858.2,1184.7 L860.1,1184.7 L862.1,1184.8 L867.7,1184.7 L873.4,1184.5 L879.1,1184 L884.7,1183.4 L890.2,1182.6 L895.7,1181.5 L901.2,1180.3 L906.5,1178.9 L911.8,1177.3 L917.1,1175.5 L922.2,1173.5 L927.3,1171.3 L932.3,1169 L937.2,1166.5 L942,1163.9 L946.7,1161.1 L951.3,1158.1 L955.9,1155 L960.3,1151.7 L964.6,1148.3 L968.8,1144.7 L972.9,1141 L976.8,1137.2 L980.7,1133.2 L984.4,1129.1 L988,1124.8 L991.5,1120.5 L994.8,1116 L998,1111.4 L1001.1,1106.7 L1004,1101.9 L1006.8,1097 L1009.4,1092 L1011.9,1086.9 L1014.2,1081.7 L1016.4,1076.4 L1018.4,1071 L1020.3,1065.5 L1021.9,1060 L1023.5,1054.3 L1024.8,1048.6 L1026,1042.9 L1027,1037 L1027.8,1031.1 L1028.4,1025.2 L1028.8,1019.2 L1029.1,1013.1 L1029.2,1007 L1029.1,1000.8 L1028.8,994.5 L1028.3,988.4 L1027.6,982.3 L1026.8,976.3 L1025.8,970.3 L1024.6,964.4 L1023.2,958.6 L1021.7,952.9 L1019.9,947.2 L1018.1,941.6 L1016,936.1 L1013.8,930.7 L1011.5,925.4 L1009,920.2 L1006.4,915.1 L1003.6,910.1 L1000.6,905.2 L997.6,900.4 L994.3,895.7 L991,891.2 L987.5,886.8 L983.9,882.5 L980.2,878.3 L976.4,874.2 L972.4,870.3 L968.3,866.6 L964.1,862.9 L959.8,859.5 L955.4,856.1 L950.9,853 L946.3,849.9Z" fill="#181818"/>
<path d="M793.6,867.7 L793.6,866.3 L793.8,864.5 L794,862.8 L794.3,861.1 L794.7,859.5 L795.2,857.9 L795.8,856.3 L796.5,854.7 L797.2,853.2 L798,851.7 L798.9,850.3 L799.9,848.9 L800.9,847.5 L802,846.2 L803.1,844.9 L804.3,843.7 L805.5,842.5 L806.8,841.4 L808.2,840.3 L809.5,839.2 L811,838.2 L812.4,837.2 L814,836.3 L815.5,835.4 L817.1,834.5 L818.7,833.6 L820.4,832.8 L822.1,832.1 L823.9,831.4 L825.6,830.7 L827.4,830 L829.3,829.4 L831.1,828.8 L833,828.2 L834.9,827.7 L836.9,827.2 L838.9,826.8 L840.9,826.4 L842.9,826 L844.9,825.6 L847,825.3 L849.1,825 L851.2,824.8 L853.3,824.6 L855.5,824.4 L857.6,824.3 L859.8,824.2 L862.1,824.1 L867.8,824.1 L873.5,824.4 L879.2,824.8 L884.8,825.5 L890.4,826.3 L896,827.4 L901.4,828.6 L906.9,830.1 L912.2,831.7 L917.5,833.5 L922.7,835.6 L927.8,837.7 L932.8,840.1 L937.8,842.7 L942.6,845.4 L947.4,848.3 L946.3,849.9 L941.6,847.1 L936.8,844.4 L931.9,841.9 L927,839.5 L921.9,837.3 L916.8,835.3 L911.6,833.5 L906.3,831.9 L901,830.4 L895.6,829.2 L890.1,828.1 L884.6,827.3 L879,826.6 L873.4,826.2 L867.7,825.9 L862.1,825.9 L859.8,826 L857.7,826.1 L855.6,826.2 L853.4,826.4 L851.3,826.5 L849.3,826.8 L847.2,827 L845.2,827.3 L843.2,827.7 L841.2,828.1 L839.2,828.5 L837.2,828.9 L835.3,829.4 L833.4,829.9 L831.6,830.4 L829.7,831 L827.9,831.6 L826.2,832.2 L824.4,832.9 L822.7,833.6 L821.1,834.4 L819.4,835.1 L817.8,835.9 L816.3,836.8 L814.8,837.7 L813.3,838.6 L811.8,839.5 L810.4,840.5 L809.1,841.6 L807.8,842.6 L806.5,843.7 L805.3,844.9 L804.2,846 L803.1,847.2 L802,848.5 L801.1,849.8 L800.1,851.1 L799.3,852.5 L798.5,853.9 L797.8,855.4 L797.1,856.8 L796.6,858.4 L796.1,859.9 L795.7,861.5 L795.4,863.1 L795.2,864.7 L795,866.3 L795,867.8Z" fill="#9a978f"/>
<path d="M794.1,867.7 L794.1,866.3 L794.3,864.6 L794.5,862.9 L794.8,861.3 L803.5,863.4 L803.3,864.5 L803.1,865.7 L803,866.8 L803,868Z" fill="#c9c5bc"/>
<path d="M803,868 L803,866.8 L803.1,865.7 L803.3,864.5 L803.5,863.4 L805.1,863.8 L804.9,864.8 L804.7,865.8 L804.6,866.9 L804.6,868Z" fill="#4e4c48"/>
<path d="M804.6,868 L804.6,866.9 L804.7,865.8 L804.9,864.8 L805.1,863.8 L809,864.7 L808.8,865.5 L808.6,866.3 L808.5,867.1 L808.5,868.2Z" fill="#b4b2ac"/>
<path d="M808.5,868.2 L808.5,867.1 L808.6,866.3 L808.8,865.5 L809,864.7 L810.7,865.1 L810.5,865.8 L810.4,866.5 L810.3,867.3 L810.3,868.2Z" fill="#f4f4f4"/>
<path d="M810.3,868.2 L810.3,867.3 L810.4,866.5 L810.5,865.8 L810.7,865.1 L812.3,865.5 L812.1,866.1 L812,866.7 L811.9,867.3 L811.9,868.3Z" fill="#3a3a3a"/>
<path d="M794.5,862.9 L794.8,861.3 L795.2,859.6 L795.7,858 L796.3,856.5 L797,855 L805.1,859 L804.7,860.1 L804.2,861.2 L803.9,862.3 L803.5,863.4 L803.3,864.5Z" fill="#c9c5bc"/>
<path d="M803.3,864.5 L803.5,863.4 L803.9,862.3 L804.2,861.2 L804.7,860.1 L805.1,859 L806.6,859.8 L806.2,860.7 L805.7,861.7 L805.4,862.7 L805.1,863.8 L804.9,864.8Z" fill="#4e4c48"/>
<path d="M804.9,864.8 L805.1,863.8 L805.4,862.7 L805.7,861.7 L806.2,860.7 L806.6,859.8 L810.2,861.6 L809.8,862.3 L809.5,863.1 L809.2,863.9 L809,864.7 L808.8,865.5Z" fill="#b4b2ac"/>
<path d="M808.8,865.5 L809,864.7 L809.2,863.9 L809.5,863.1 L809.8,862.3 L810.2,861.6 L811.9,862.4 L811.5,863.1 L811.2,863.7 L810.9,864.4 L810.7,865.1 L810.5,865.8Z" fill="#f4f4f4"/>
<path d="M810.5,865.8 L810.7,865.1 L810.9,864.4 L811.2,863.7 L811.5,863.1 L811.9,862.4 L813.3,863.1 L813,863.7 L812.7,864.3 L812.5,864.9 L812.3,865.5 L812.1,866.1Z" fill="#3a3a3a"/>
<path d="M796.3,856.5 L797,855 L797.7,853.5 L798.5,852 L799.4,850.6 L800.3,849.2 L807.7,855 L807,856 L806.3,857 L805.7,858 L805.1,859 L804.7,860.1Z" fill="#c9c5bc"/>
<path d="M804.7,860.1 L805.1,859 L805.7,858 L806.3,857 L807,856 L807.7,855 L809.1,856 L808.4,856.9 L807.7,857.9 L807.1,858.8 L806.6,859.8 L806.2,860.7Z" fill="#4e4c48"/>
<path d="M806.2,860.7 L806.6,859.8 L807.1,858.8 L807.7,857.9 L808.4,856.9 L809.1,856 L812.3,858.6 L811.7,859.3 L811.2,860 L810.7,860.8 L810.2,861.6 L809.8,862.3Z" fill="#b4b2ac"/>
<path d="M809.8,862.3 L810.2,861.6 L810.7,860.8 L811.2,860 L811.7,859.3 L812.3,858.6 L813.8,859.7 L813.2,860.4 L812.7,861 L812.3,861.7 L811.9,862.4 L811.5,863.1Z" fill="#f4f4f4"/>
<path d="M811.5,863.1 L811.9,862.4 L812.3,861.7 L812.7,861 L813.2,860.4 L813.8,859.7 L815.1,860.8 L814.6,861.3 L814.1,861.9 L813.7,862.5 L813.3,863.1 L813,863.7Z" fill="#3a3a3a"/>
<path d="M799.4,850.6 L800.3,849.2 L801.3,847.9 L802.4,846.6 L803.5,845.3 L804.7,844.1 L811.2,851.3 L810.2,852.2 L809.3,853.1 L808.5,854 L807.7,855 L807,856Z" fill="#c9c5bc"/>
<path d="M807,856 L807.7,855 L808.5,854 L809.3,853.1 L810.2,852.2 L811.2,851.3 L812.4,852.5 L811.5,853.4 L810.6,854.2 L809.8,855.1 L809.1,856 L808.4,856.9Z" fill="#4e4c48"/>
<path d="M808.4,856.9 L809.1,856 L809.8,855.1 L810.6,854.2 L811.5,853.4 L812.4,852.5 L815.2,855.7 L814.4,856.4 L813.7,857.1 L813,857.8 L812.3,858.6 L811.7,859.3Z" fill="#b4b2ac"/>
<path d="M811.7,859.3 L812.3,858.6 L813,857.8 L813.7,857.1 L814.4,856.4 L815.2,855.7 L816.5,857.1 L815.8,857.7 L815.1,858.4 L814.4,859.1 L813.8,859.7 L813.2,860.4Z" fill="#f4f4f4"/>
<path d="M813.2,860.4 L813.8,859.7 L814.4,859.1 L815.1,858.4 L815.8,857.7 L816.5,857.1 L817.7,858.4 L817,859 L816.3,859.6 L815.7,860.2 L815.1,860.8 L814.6,861.3Z" fill="#3a3a3a"/>
<path d="M803.5,845.3 L804.7,844.1 L805.9,843 L807.2,841.8 L808.5,840.8 L809.9,839.7 L815.5,847.9 L814.3,848.7 L813.2,849.5 L812.2,850.4 L811.2,851.3 L810.2,852.2Z" fill="#c9c5bc"/>
<path d="M810.2,852.2 L811.2,851.3 L812.2,850.4 L813.2,849.5 L814.3,848.7 L815.5,847.9 L816.5,849.4 L815.4,850.1 L814.3,850.9 L813.3,851.7 L812.4,852.5 L811.5,853.4Z" fill="#4e4c48"/>
<path d="M811.5,853.4 L812.4,852.5 L813.3,851.7 L814.3,850.9 L815.4,850.1 L816.5,849.4 L818.9,852.9 L817.9,853.6 L817,854.3 L816.1,855 L815.2,855.7 L814.4,856.4Z" fill="#b4b2ac"/>
<path d="M814.4,856.4 L815.2,855.7 L816.1,855 L817,854.3 L817.9,853.6 L818.9,852.9 L820.1,854.6 L819.1,855.2 L818.2,855.8 L817.3,856.5 L816.5,857.1 L815.8,857.7Z" fill="#f4f4f4"/>
<path d="M815.8,857.7 L816.5,857.1 L817.3,856.5 L818.2,855.8 L819.1,855.2 L820.1,854.6 L821.1,856.1 L820.1,856.6 L819.3,857.2 L818.5,857.8 L817.7,858.4 L817,859Z" fill="#3a3a3a"/>
<path d="M808.5,840.8 L809.9,839.7 L811.3,838.7 L812.8,837.7 L814.3,836.8 L815.8,835.9 L820.5,844.9 L819.2,845.6 L817.9,846.3 L816.7,847.1 L815.5,847.9 L814.3,848.7Z" fill="#c9c5bc"/>
<path d="M814.3,848.7 L815.5,847.9 L816.7,847.1 L817.9,846.3 L819.2,845.6 L820.5,844.9 L821.3,846.5 L820.1,847.2 L818.8,847.9 L817.6,848.6 L816.5,849.4 L815.4,850.1Z" fill="#4e4c48"/>
<path d="M815.4,850.1 L816.5,849.4 L817.6,848.6 L818.8,847.9 L820.1,847.2 L821.3,846.5 L823.4,850.4 L822.2,851 L821.1,851.7 L820,852.3 L818.9,852.9 L817.9,853.6Z" fill="#b4b2ac"/>
<path d="M817.9,853.6 L818.9,852.9 L820,852.3 L821.1,851.7 L822.2,851 L823.4,850.4 L824.4,852.2 L823.2,852.8 L822.1,853.4 L821.1,854 L820.1,854.6 L819.1,855.2Z" fill="#f4f4f4"/>
<path d="M819.1,855.2 L820.1,854.6 L821.1,854 L822.1,853.4 L823.2,852.8 L824.4,852.2 L825.2,853.9 L824.1,854.4 L823,854.9 L822,855.5 L821.1,856.1 L820.1,856.6Z" fill="#3a3a3a"/>
<path d="M814.3,836.8 L815.8,835.9 L817.4,835 L819,834.2 L820.7,833.4 L822.3,832.7 L826.2,842.3 L824.7,842.9 L823.3,843.5 L821.9,844.2 L820.5,844.9 L819.2,845.6Z" fill="#c9c5bc"/>
<path d="M819.2,845.6 L820.5,844.9 L821.9,844.2 L823.3,843.5 L824.7,842.9 L826.2,842.3 L826.9,844 L825.4,844.6 L824,845.2 L822.7,845.8 L821.3,846.5 L820.1,847.2Z" fill="#4e4c48"/>
<path d="M820.1,847.2 L821.3,846.5 L822.7,845.8 L824,845.2 L825.4,844.6 L826.9,844 L828.6,848.2 L827.2,848.7 L825.9,849.3 L824.6,849.9 L823.4,850.4 L822.2,851Z" fill="#b4b2ac"/>
<path d="M822.2,851 L823.4,850.4 L824.6,849.9 L825.9,849.3 L827.2,848.7 L828.6,848.2 L829.3,850.1 L828,850.6 L826.8,851.2 L825.5,851.7 L824.4,852.2 L823.2,852.8Z" fill="#f4f4f4"/>
<path d="M823.2,852.8 L824.4,852.2 L825.5,851.7 L826.8,851.2 L828,850.6 L829.3,850.1 L830,851.9 L828.8,852.3 L827.5,852.8 L826.3,853.3 L825.2,853.9 L824.1,854.4Z" fill="#3a3a3a"/>
<path d="M820.7,833.4 L822.3,832.7 L824.1,831.9 L825.8,831.3 L827.6,830.6 L829.4,830 L832.5,840.1 L830.9,840.6 L829.3,841.1 L827.7,841.7 L826.2,842.3 L824.7,842.9Z" fill="#c9c5bc"/>
<path d="M824.7,842.9 L826.2,842.3 L827.7,841.7 L829.3,841.1 L830.9,840.6 L832.5,840.1 L833,841.9 L831.4,842.4 L829.9,842.9 L828.4,843.4 L826.9,844 L825.4,844.6Z" fill="#4e4c48"/>
<path d="M825.4,844.6 L826.9,844 L828.4,843.4 L829.9,842.9 L831.4,842.4 L833,841.9 L834.4,846.3 L832.9,846.8 L831.4,847.2 L830,847.7 L828.6,848.2 L827.2,848.7Z" fill="#b4b2ac"/>
<path d="M827.2,848.7 L828.6,848.2 L830,847.7 L831.4,847.2 L832.9,846.8 L834.4,846.3 L835,848.3 L833.5,848.8 L832.1,849.2 L830.7,849.7 L829.3,850.1 L828,850.6Z" fill="#f4f4f4"/>
<path d="M828,850.6 L829.3,850.1 L830.7,849.7 L832.1,849.2 L833.5,848.8 L835,848.3 L835.5,850.2 L834.1,850.6 L832.7,851 L831.4,851.4 L830,851.9 L828.8,852.3Z" fill="#3a3a3a"/>
<path d="M827.6,830.6 L829.4,830 L831.3,829.4 L833.2,828.9 L835.1,828.3 L837,827.9 L839.3,838.3 L837.5,838.7 L835.8,839.1 L834.1,839.6 L832.5,840.1 L830.9,840.6Z" fill="#c9c5bc"/>
<path d="M830.9,840.6 L832.5,840.1 L834.1,839.6 L835.8,839.1 L837.5,838.7 L839.3,838.3 L839.7,840.2 L838,840.6 L836.3,841 L834.6,841.4 L833,841.9 L831.4,842.4Z" fill="#4e4c48"/>
<path d="M831.4,842.4 L833,841.9 L834.6,841.4 L836.3,841 L838,840.6 L839.7,840.2 L840.7,844.8 L839.1,845.2 L837.5,845.5 L835.9,845.9 L834.4,846.3 L832.9,846.8Z" fill="#b4b2ac"/>
<path d="M832.9,846.8 L834.4,846.3 L835.9,845.9 L837.5,845.5 L839.1,845.2 L840.7,844.8 L841.1,846.9 L839.5,847.2 L838,847.6 L836.5,848 L835,848.3 L833.5,848.8Z" fill="#f4f4f4"/>
<path d="M833.5,848.8 L835,848.3 L836.5,848 L838,847.6 L839.5,847.2 L841.1,846.9 L841.5,848.8 L840,849.1 L838.5,849.4 L837,849.8 L835.5,850.2 L834.1,850.6Z" fill="#3a3a3a"/>
<path d="M835.1,828.3 L837,827.9 L839,827.4 L841,827 L843,826.6 L845,826.3 L846.5,837.1 L844.7,837.3 L842.8,837.6 L841.1,838 L839.3,838.3 L837.5,838.7Z" fill="#c9c5bc"/>
<path d="M837.5,838.7 L839.3,838.3 L841.1,838 L842.8,837.6 L844.7,837.3 L846.5,837.1 L846.8,839 L845,839.3 L843.2,839.5 L841.4,839.9 L839.7,840.2 L838,840.6Z" fill="#4e4c48"/>
<path d="M838,840.6 L839.7,840.2 L841.4,839.9 L843.2,839.5 L845,839.3 L846.8,839 L847.4,843.7 L845.7,844 L844,844.2 L842.3,844.5 L840.7,844.8 L839.1,845.2Z" fill="#b4b2ac"/>
<path d="M839.1,845.2 L840.7,844.8 L842.3,844.5 L844,844.2 L845.7,844 L847.4,843.7 L847.7,845.9 L846.1,846.1 L844.4,846.4 L842.7,846.6 L841.1,846.9 L839.5,847.2Z" fill="#f4f4f4"/>
<path d="M839.5,847.2 L841.1,846.9 L842.7,846.6 L844.4,846.4 L846.1,846.1 L847.7,845.9 L848,847.8 L846.4,848 L844.7,848.3 L843.1,848.5 L841.5,848.8 L840,849.1Z" fill="#3a3a3a"/>
<path d="M843,826.6 L845,826.3 L847.1,826 L849.2,825.7 L851.2,825.5 L853.4,825.2 L854.1,836.3 L852.2,836.4 L850.3,836.6 L848.4,836.8 L846.5,837.1 L844.7,837.3Z" fill="#c9c5bc"/>
<path d="M844.7,837.3 L846.5,837.1 L848.4,836.8 L850.3,836.6 L852.2,836.4 L854.1,836.3 L854.3,838.2 L852.4,838.4 L850.5,838.6 L848.6,838.8 L846.8,839 L845,839.3Z" fill="#4e4c48"/>
<path d="M845,839.3 L846.8,839 L848.6,838.8 L850.5,838.6 L852.4,838.4 L854.3,838.2 L854.6,843.1 L852.8,843.2 L851,843.4 L849.2,843.5 L847.4,843.7 L845.7,844Z" fill="#b4b2ac"/>
<path d="M845.7,844 L847.4,843.7 L849.2,843.5 L851,843.4 L852.8,843.2 L854.6,843.1 L854.7,845.3 L853,845.4 L851.2,845.5 L849.5,845.7 L847.7,845.9 L846.1,846.1Z" fill="#f4f4f4"/>
<path d="M846.1,846.1 L847.7,845.9 L849.5,845.7 L851.2,845.5 L853,845.4 L854.7,845.3 L854.9,847.3 L853.1,847.4 L851.4,847.5 L849.7,847.7 L848,847.8 L846.4,848Z" fill="#3a3a3a"/>
<path d="M851.2,825.5 L853.4,825.2 L855.5,825.1 L857.7,825 L859.8,824.9 L862.1,824.8 L862,835.1 L860,835.1 L858,835.1 L856,835.2 L854.1,835.4 L852.1,835.5Z" fill="#c7c4bb"/>
<path d="M852.1,835.5 L854.1,835.4 L856,835.2 L858,835.1 L860,835.1 L862,835.1 L862,837 L860,837 L858.1,837.1 L856.1,837.1 L854.2,837.3 L852.3,837.4Z" fill="#4d4c48"/>
<path d="M852.3,837.4 L854.2,837.3 L856.1,837.1 L858.1,837.1 L860,837 L862,837 L861.9,841.7 L860.1,841.7 L858.2,841.7 L856.4,841.8 L854.5,841.9 L852.7,842Z" fill="#b1afa9"/>
<path d="M852.7,842 L854.5,841.9 L856.4,841.8 L858.2,841.7 L860.1,841.7 L861.9,841.7 L861.9,844.4 L860.1,844.4 L858.3,844.4 L856.5,844.4 L854.7,844.5 L852.9,844.6Z" fill="#f4f4f4"/>
<path d="M852.9,844.6 L854.7,844.5 L856.5,844.4 L858.3,844.4 L860.1,844.4 L861.9,844.4 L861.9,847.1 L860.2,847.1 L858.4,847.1 L856.6,847.1 L854.9,847.2 L853.1,847.3Z" fill="#4a4a49"/>
<path d="M859.8,824.9 L862.1,824.8 L867.7,824.8 L873.5,825.1 L879.1,825.5 L884.7,826.1 L883.3,835.7 L878.1,835 L872.8,834.5 L867.4,834.2 L862,834.1 L860,834.2Z" fill="#c6c2ba"/>
<path d="M860,834.2 L862,834.1 L867.4,834.2 L872.8,834.5 L878.1,835 L883.3,835.7 L883,837.5 L877.8,836.9 L872.6,836.4 L867.3,836.1 L862,836 L860,836Z" fill="#4d4b47"/>
<path d="M860,836 L862,836 L867.3,836.1 L872.6,836.4 L877.8,836.9 L883,837.5 L882.3,842.1 L877.3,841.5 L872.3,840.9 L867.2,840.6 L861.9,840.5 L860.1,840.5Z" fill="#adaba5"/>
<path d="M860.1,840.5 L861.9,840.5 L867.2,840.6 L872.3,840.9 L877.3,841.5 L882.3,842.1 L881.9,845.3 L877,844.6 L872,844.1 L867,843.7 L861.9,843.6 L860.1,843.6Z" fill="#f4f4f4"/>
<path d="M860.1,843.6 L861.9,843.6 L867,843.7 L872,844.1 L877,844.6 L881.9,845.3 L881.4,848.7 L876.6,848 L871.8,847.5 L866.9,847.1 L861.9,847 L860.2,846.9Z" fill="#5b5a59"/>
<path d="M879.1,825.5 L884.7,826.1 L890.3,827 L895.8,828.1 L901.3,829.3 L906.7,830.8 L904.1,839.3 L899,837.9 L893.9,836.6 L888.7,835.6 L883.5,834.7 L878.2,834.1Z" fill="#c4c1ba"/>
<path d="M878.2,834.1 L883.5,834.7 L888.7,835.6 L893.9,836.6 L899,837.9 L904.1,839.3 L903.5,841.1 L898.5,839.7 L893.5,838.4 L888.4,837.4 L883.2,836.5 L878,835.8Z" fill="#4c4b47"/>
<path d="M878,835.8 L883.2,836.5 L888.4,837.4 L893.5,838.4 L898.5,839.7 L903.5,841.1 L902.2,845.4 L897.4,844 L892.5,842.8 L887.5,841.8 L882.5,840.9 L877.5,840.2Z" fill="#aaa8a2"/>
<path d="M877.5,840.2 L882.5,840.9 L887.5,841.8 L892.5,842.8 L897.4,844 L902.2,845.4 L901.1,849 L896.4,847.6 L891.7,846.4 L886.9,845.3 L882,844.5 L877.1,843.8Z" fill="#f4f4f4"/>
<path d="M877.1,843.8 L882,844.5 L886.9,845.3 L891.7,846.4 L896.4,847.6 L901.1,849 L899.9,853.1 L895.3,851.7 L890.7,850.5 L886.1,849.5 L881.4,848.6 L876.6,847.9Z" fill="#6b6a68"/>
<path d="M901.3,829.3 L906.7,830.8 L912,832.4 L917.2,834.2 L922.4,836.2 L927.5,838.4 L924,845.8 L919.2,843.7 L914.3,841.7 L909.4,840 L904.3,838.4 L899.2,836.9Z" fill="#c3c0b9"/>
<path d="M899.2,836.9 L904.3,838.4 L909.4,840 L914.3,841.7 L919.2,843.7 L924,845.8 L923.3,847.4 L918.5,845.3 L913.7,843.4 L908.8,841.6 L903.8,840 L898.8,838.6Z" fill="#4c4a47"/>
<path d="M898.8,838.6 L903.8,840 L908.8,841.6 L913.7,843.4 L918.5,845.3 L923.3,847.4 L921.4,851.5 L916.8,849.4 L912.1,847.5 L907.4,845.8 L902.6,844.2 L897.7,842.8Z" fill="#a6a49f"/>
<path d="M897.7,842.8 L902.6,844.2 L907.4,845.8 L912.1,847.5 L916.8,849.4 L921.4,851.5 L919.6,855.3 L915.1,853.3 L910.6,851.4 L906,849.7 L901.4,848.1 L896.7,846.8Z" fill="#f4f4f4"/>
<path d="M896.7,846.8 L901.4,848.1 L906,849.7 L910.6,851.4 L915.1,853.3 L919.6,855.3 L917.4,860 L913.1,858 L908.8,856.2 L904.4,854.5 L899.9,853 L895.4,851.6Z" fill="#7c7b78"/>
<path d="M922.4,836.2 L927.5,838.4 L932.5,840.8 L937.4,843.3 L942.2,846 L947,848.9 L943,855 L938.5,852.2 L933.9,849.6 L929.2,847.2 L924.5,844.9 L919.6,842.8Z" fill="#c1beb8"/>
<path d="M919.6,842.8 L924.5,844.9 L929.2,847.2 L933.9,849.6 L938.5,852.2 L943,855 L942.1,856.5 L937.6,853.7 L933.1,851.1 L928.5,848.7 L923.7,846.4 L919,844.3Z" fill="#4b4a47"/>
<path d="M919,844.3 L923.7,846.4 L928.5,848.7 L933.1,851.1 L937.6,853.7 L942.1,856.5 L939.7,860.1 L935.4,857.4 L931,854.9 L926.5,852.5 L922,850.2 L917.3,848.2Z" fill="#a3a19b"/>
<path d="M917.3,848.2 L922,850.2 L926.5,852.5 L931,854.9 L935.4,857.4 L939.7,860.1 L937.1,864.2 L933,861.5 L928.7,859 L924.4,856.7 L920,854.5 L915.5,852.5Z" fill="#f4f4f4"/>
<path d="M915.5,852.5 L920,854.5 L924.4,856.7 L928.7,859 L933,861.5 L937.1,864.2 L933.8,869.2 L929.9,866.7 L925.8,864.3 L921.7,862 L917.5,859.9 L913.2,857.9Z" fill="#8c8b87"/>
<path d="M942.2,846 L947,848.9 L951.6,851.9 L956.2,855.1 L960.6,858.5 L965,862 L960.8,866.8 L956.6,863.4 L952.4,860.2 L948,857.1 L943.6,854.2 L939,851.4Z" fill="#bfbdb7"/>
<path d="M939,851.4 L943.6,854.2 L948,857.1 L952.4,860.2 L956.6,863.4 L960.8,866.8 L959.7,868.1 L955.6,864.8 L951.4,861.5 L947.1,858.5 L942.7,855.5 L938.2,852.8Z" fill="#4b4a46"/>
<path d="M938.2,852.8 L942.7,855.5 L947.1,858.5 L951.4,861.5 L955.6,864.8 L959.7,868.1 L957,871.3 L953,868 L948.9,864.8 L944.8,861.8 L940.5,859 L936.1,856.3Z" fill="#9f9d98"/>
<path d="M936.1,856.3 L940.5,859 L944.8,861.8 L948.9,864.8 L953,868 L957,871.3 L953.5,875.4 L949.7,872.2 L945.7,869.1 L941.7,866.2 L937.6,863.4 L933.4,860.8Z" fill="#f4f4f4"/>
<path d="M933.4,860.8 L937.6,863.4 L941.7,866.2 L945.7,869.1 L949.7,872.2 L953.5,875.4 L949,880.7 L945.4,877.6 L941.6,874.6 L937.8,871.8 L933.9,869.1 L929.9,866.6Z" fill="#9c9b97"/>
<path d="M960.6,858.5 L965,862 L969.2,865.6 L973.3,869.4 L977.3,873.3 L981.2,877.4 L977.1,881.1 L973.4,877.1 L969.5,873.3 L965.6,869.6 L961.5,866 L957.3,862.6Z" fill="#bebcb6"/>
<path d="M957.3,862.6 L961.5,866 L965.6,869.6 L969.5,873.3 L973.4,877.1 L977.1,881.1 L975.9,882.1 L972.2,878.2 L968.4,874.4 L964.5,870.8 L960.5,867.2 L956.3,863.9Z" fill="#4a4946"/>
<path d="M956.3,863.9 L960.5,867.2 L964.5,870.8 L968.4,874.4 L972.2,878.2 L975.9,882.1 L973,884.8 L969.4,881 L965.7,877.3 L961.8,873.7 L957.9,870.2 L953.9,866.9Z" fill="#9c9a95"/>
<path d="M953.9,866.9 L957.9,870.2 L961.8,873.7 L965.7,877.3 L969.4,881 L973,884.8 L968.6,888.8 L965.1,885.1 L961.6,881.5 L957.9,878 L954.1,874.7 L950.2,871.5Z" fill="#f4f4f4"/>
<path d="M950.2,871.5 L954.1,874.7 L957.9,878 L961.6,881.5 L965.1,885.1 L968.6,888.8 L962.8,894.1 L959.5,890.5 L956.1,887.1 L952.7,883.8 L949.1,880.6 L945.4,877.5Z" fill="#adaba6"/>
<path d="M977.3,873.3 L981.2,877.4 L984.9,881.6 L988.5,886 L992,890.4 L995.4,895 L991.3,897.9 L988.1,893.4 L984.7,889 L981.2,884.8 L977.5,880.7 L973.8,876.7Z" fill="#bdbbb6"/>
<path d="M973.8,876.7 L977.5,880.7 L981.2,884.8 L984.7,889 L988.1,893.4 L991.3,897.9 L990.1,898.8 L986.8,894.3 L983.5,890 L980,885.8 L976.4,881.8 L972.7,877.8Z" fill="#4a4946"/>
<path d="M972.7,877.8 L976.4,881.8 L980,885.8 L983.5,890 L986.8,894.3 L990.1,898.8 L986.8,901 L983.7,896.7 L980.4,892.4 L977,888.3 L973.5,884.4 L969.9,880.5Z" fill="#9a9893"/>
<path d="M969.9,880.5 L973.5,884.4 L977,888.3 L980.4,892.4 L983.7,896.7 L986.8,901 L981.7,904.6 L978.7,900.4 L975.5,896.3 L972.3,892.4 L968.9,888.5 L965.5,884.8Z" fill="#f4f4f4"/>
<path d="M965.5,884.8 L968.9,888.5 L972.3,892.4 L975.5,896.3 L978.7,900.4 L981.7,904.6 L974.8,909.4 L972,905.4 L969,901.5 L966,897.7 L962.8,894.1 L959.5,890.5Z" fill="#b5b3ae"/>
<path d="M992,890.4 L995.4,895 L998.7,899.7 L1001.8,904.5 L1004.7,909.4 L1007.5,914.5 L1003.1,916.8 L1000.4,911.9 L997.5,907.1 L994.5,902.4 L991.3,897.9 L988.1,893.4Z" fill="#bdbbb6"/>
<path d="M988.1,893.4 L991.3,897.9 L994.5,902.4 L997.5,907.1 L1000.4,911.9 L1003.1,916.8 L1001.7,917.6 L999,912.7 L996.1,908 L993.2,903.3 L990.1,898.8 L986.8,894.3Z" fill="#4a4946"/>
<path d="M986.8,894.3 L990.1,898.8 L993.2,903.3 L996.1,908 L999,912.7 L1001.7,917.6 L998.2,919.5 L995.5,914.7 L992.8,910 L989.9,905.5 L986.8,901 L983.7,896.7Z" fill="#9a9893"/>
<path d="M983.7,896.7 L986.8,901 L989.9,905.5 L992.8,910 L995.5,914.7 L998.2,919.5 L992.6,922.4 L990,917.8 L987.4,913.3 L984.6,908.9 L981.7,904.6 L978.7,900.4Z" fill="#f4f4f4"/>
<path d="M978.7,900.4 L981.7,904.6 L984.6,908.9 L987.4,913.3 L990,917.8 L992.6,922.4 L985.1,926.4 L982.7,922 L980.2,917.7 L977.6,913.5 L974.8,909.4 L972,905.4Z" fill="#b5b3ae"/>
<path d="M1004.7,909.4 L1007.5,914.5 L1010.2,919.6 L1012.7,924.9 L1015.1,930.2 L1017.3,935.7 L1012.5,937.5 L1010.4,932.2 L1008.1,927 L1005.7,921.9 L1003.1,916.8 L1000.4,911.9Z" fill="#bdbbb6"/>
<path d="M1000.4,911.9 L1003.1,916.8 L1005.7,921.9 L1008.1,927 L1010.4,932.2 L1012.5,937.5 L1011.1,938 L1008.9,932.8 L1006.7,927.6 L1004.2,922.6 L1001.7,917.6 L999,912.7Z" fill="#4a4946"/>
<path d="M999,912.7 L1001.7,917.6 L1004.2,922.6 L1006.7,927.6 L1008.9,932.8 L1011.1,938 L1007.3,939.5 L1005.2,934.3 L1003,929.3 L1000.7,924.3 L998.2,919.5 L995.5,914.7Z" fill="#9a9893"/>
<path d="M995.5,914.7 L998.2,919.5 L1000.7,924.3 L1003,929.3 L1005.2,934.3 L1007.3,939.5 L1001.3,941.8 L999.3,936.8 L997.2,931.9 L995,927.1 L992.6,922.4 L990,917.8Z" fill="#f4f4f4"/>
<path d="M990,917.8 L992.6,922.4 L995,927.1 L997.2,931.9 L999.3,936.8 L1001.3,941.8 L993.4,944.8 L991.5,940.1 L989.5,935.4 L987.3,930.9 L985.1,926.4 L982.7,922Z" fill="#b5b3ae"/>
<path d="M1015.1,930.2 L1017.3,935.7 L1019.3,941.2 L1021.2,946.8 L1022.9,952.5 L1024.5,958.3 L1019.5,959.5 L1018,953.9 L1016.4,948.3 L1014.5,942.9 L1012.5,937.5 L1010.4,932.2Z" fill="#bdbbb6"/>
<path d="M1010.4,932.2 L1012.5,937.5 L1014.5,942.9 L1016.4,948.3 L1018,953.9 L1019.5,959.5 L1018,959.9 L1016.5,954.3 L1014.8,948.8 L1013,943.4 L1011.1,938 L1008.9,932.8Z" fill="#4a4946"/>
<path d="M1008.9,932.8 L1011.1,938 L1013,943.4 L1014.8,948.8 L1016.5,954.3 L1018,959.9 L1014.1,960.9 L1012.6,955.4 L1011,950 L1009.2,944.7 L1007.3,939.5 L1005.2,934.3Z" fill="#9a9893"/>
<path d="M1005.2,934.3 L1007.3,939.5 L1009.2,944.7 L1011,950 L1012.6,955.4 L1014.1,960.9 L1007.8,962.5 L1006.4,957.2 L1004.9,952 L1003.2,946.8 L1001.3,941.8 L999.3,936.8Z" fill="#f4f4f4"/>
<path d="M999.3,936.8 L1001.3,941.8 L1003.2,946.8 L1004.9,952 L1006.4,957.2 L1007.8,962.5 L999.5,964.5 L998.2,959.5 L996.7,954.5 L995.1,949.6 L993.4,944.8 L991.5,940.1Z" fill="#b5b3ae"/>
<path d="M1022.9,952.5 L1024.5,958.3 L1025.9,964.2 L1027.1,970.1 L1028.1,976.1 L1029,982.2 L1023.9,982.8 L1023.1,976.9 L1022.1,971 L1020.9,965.2 L1019.5,959.5 L1018,953.9Z" fill="#bdbbb6"/>
<path d="M1018,953.9 L1019.5,959.5 L1020.9,965.2 L1022.1,971 L1023.1,976.9 L1023.9,982.8 L1022.3,983 L1021.5,977.1 L1020.5,971.3 L1019.3,965.6 L1018,959.9 L1016.5,954.3Z" fill="#4a4946"/>
<path d="M1016.5,954.3 L1018,959.9 L1019.3,965.6 L1020.5,971.3 L1021.5,977.1 L1022.3,983 L1018.3,983.5 L1017.5,977.7 L1016.5,972 L1015.4,966.4 L1014.1,960.9 L1012.6,955.4Z" fill="#9a9893"/>
<path d="M1012.6,955.4 L1014.1,960.9 L1015.4,966.4 L1016.5,972 L1017.5,977.7 L1018.3,983.5 L1011.8,984.3 L1011.1,978.7 L1010.1,973.2 L1009.1,967.8 L1007.8,962.5 L1006.4,957.2Z" fill="#f4f4f4"/>
<path d="M1006.4,957.2 L1007.8,962.5 L1009.1,967.8 L1010.1,973.2 L1011.1,978.7 L1011.8,984.3 L1003.3,985.3 L1002.6,980 L1001.7,974.8 L1000.6,969.6 L999.5,964.5 L998.2,959.5Z" fill="#b5b3ae"/>
<path d="M1028.1,976.1 L1029,982.2 L1029.6,988.3 L1030.1,994.5 L1030.4,1000.7 L1030.5,1007 L1025.4,1007 L1025.3,1000.9 L1025,994.8 L1024.5,988.7 L1023.9,982.8 L1023.1,976.9Z" fill="#bdbbb6"/>
<path d="M1023.1,976.9 L1023.9,982.8 L1024.5,988.7 L1025,994.8 L1025.3,1000.9 L1025.4,1007 L1023.8,1007 L1023.7,1000.9 L1023.4,994.9 L1022.9,988.9 L1022.3,983 L1021.5,977.1Z" fill="#4a4946"/>
<path d="M1021.5,977.1 L1022.3,983 L1022.9,988.9 L1023.4,994.9 L1023.7,1000.9 L1023.8,1007 L1019.7,1007 L1019.6,1001 L1019.3,995.1 L1018.9,989.3 L1018.3,983.5 L1017.5,977.7Z" fill="#9a9893"/>
<path d="M1017.5,977.7 L1018.3,983.5 L1018.9,989.3 L1019.3,995.1 L1019.6,1001 L1019.7,1007 L1013.2,1007 L1013.1,1001.2 L1012.9,995.5 L1012.4,989.9 L1011.8,984.3 L1011.1,978.7Z" fill="#f4f4f4"/>
<path d="M1011.1,978.7 L1011.8,984.3 L1012.4,989.9 L1012.9,995.5 L1013.1,1001.2 L1013.2,1007 L1004.6,1007 L1004.5,1001.5 L1004.2,996.1 L1003.8,990.7 L1003.3,985.3 L1002.6,980Z" fill="#b5b3ae"/>
<path d="M1030.4,1000.7 L1030.5,1007 L1030.4,1013.1 L1030.2,1019.3 L1029.8,1025.3 L1029.1,1031.3 L1024,1030.7 L1024.6,1024.8 L1025,1018.9 L1025.3,1013 L1025.4,1007 L1025.3,1000.9Z" fill="#bdbbb6"/>
<path d="M1025.3,1000.9 L1025.4,1007 L1025.3,1013 L1025,1018.9 L1024.6,1024.8 L1024,1030.7 L1022.4,1030.4 L1023,1024.7 L1023.4,1018.8 L1023.7,1012.9 L1023.8,1007 L1023.7,1000.9Z" fill="#4a4946"/>
<path d="M1023.7,1000.9 L1023.8,1007 L1023.7,1012.9 L1023.4,1018.8 L1023,1024.7 L1022.4,1030.4 L1018.3,1029.9 L1018.9,1024.3 L1019.4,1018.6 L1019.6,1012.8 L1019.7,1007 L1019.6,1001Z" fill="#9a9893"/>
<path d="M1019.6,1001 L1019.7,1007 L1019.6,1012.8 L1019.4,1018.6 L1018.9,1024.3 L1018.3,1029.9 L1011.8,1029.1 L1012.4,1023.7 L1012.8,1018.2 L1013.1,1012.6 L1013.2,1007 L1013.1,1001.2Z" fill="#f4f4f4"/>
<path d="M1013.1,1001.2 L1013.2,1007 L1013.1,1012.6 L1012.8,1018.2 L1012.4,1023.7 L1011.8,1029.1 L1003.1,1028 L1003.7,1022.8 L1004.2,1017.6 L1004.5,1012.3 L1004.6,1007 L1004.5,1001.5Z" fill="#b5b3ae"/>
<path d="M1029.8,1025.3 L1029.1,1031.3 L1028.3,1037.2 L1027.3,1043.1 L1026.1,1048.9 L1024.8,1054.7 L1019.7,1053.4 L1021,1047.8 L1022.2,1042.1 L1023.2,1036.4 L1024,1030.7 L1024.6,1024.8Z" fill="#bdbbb6"/>
<path d="M1024.6,1024.8 L1024,1030.7 L1023.2,1036.4 L1022.2,1042.1 L1021,1047.8 L1019.7,1053.4 L1018.1,1053 L1019.4,1047.4 L1020.6,1041.8 L1021.6,1036.2 L1022.4,1030.4 L1023,1024.7Z" fill="#4a4946"/>
<path d="M1023,1024.7 L1022.4,1030.4 L1021.6,1036.2 L1020.6,1041.8 L1019.4,1047.4 L1018.1,1053 L1014.1,1051.9 L1015.4,1046.5 L1016.5,1041.1 L1017.5,1035.5 L1018.3,1029.9 L1018.9,1024.3Z" fill="#9a9893"/>
<path d="M1018.9,1024.3 L1018.3,1029.9 L1017.5,1035.5 L1016.5,1041.1 L1015.4,1046.5 L1014.1,1051.9 L1007.7,1050.3 L1009,1045.1 L1010.1,1039.8 L1011,1034.5 L1011.8,1029.1 L1012.4,1023.7Z" fill="#f4f4f4"/>
<path d="M1012.4,1023.7 L1011.8,1029.1 L1011,1034.5 L1010.1,1039.8 L1009,1045.1 L1007.7,1050.3 L999.2,1048.1 L1000.4,1043.2 L1001.5,1038.2 L1002.4,1033.1 L1003.1,1028 L1003.7,1022.8Z" fill="#b5b3ae"/>
<path d="M1026.1,1048.9 L1024.8,1054.7 L1023.3,1060.3 L1021.6,1065.9 L1019.7,1071.4 L1017.7,1076.9 L1012.8,1074.9 L1014.8,1069.7 L1016.6,1064.3 L1018.2,1058.9 L1019.7,1053.4 L1021,1047.8Z" fill="#bdbbb6"/>
<path d="M1021,1047.8 L1019.7,1053.4 L1018.2,1058.9 L1016.6,1064.3 L1014.8,1069.7 L1012.8,1074.9 L1011.2,1074.3 L1013.2,1069.1 L1015,1063.8 L1016.6,1058.4 L1018.1,1053 L1019.4,1047.4Z" fill="#4a4946"/>
<path d="M1019.4,1047.4 L1018.1,1053 L1016.6,1058.4 L1015,1063.8 L1013.2,1069.1 L1011.2,1074.3 L1007.4,1072.8 L1009.3,1067.7 L1011.1,1062.5 L1012.7,1057.3 L1014.1,1051.9 L1015.4,1046.5Z" fill="#9a9893"/>
<path d="M1015.4,1046.5 L1014.1,1051.9 L1012.7,1057.3 L1011.1,1062.5 L1009.3,1067.7 L1007.4,1072.8 L1001.2,1070.4 L1003.1,1065.5 L1004.8,1060.5 L1006.3,1055.4 L1007.7,1050.3 L1009,1045.1Z" fill="#f4f4f4"/>
<path d="M1009,1045.1 L1007.7,1050.3 L1006.3,1055.4 L1004.8,1060.5 L1003.1,1065.5 L1001.2,1070.4 L993,1067.2 L994.8,1062.5 L996.4,1057.8 L997.9,1053 L999.2,1048.1 L1000.4,1043.2Z" fill="#b5b3ae"/>
<path d="M1019.7,1071.4 L1017.7,1076.9 L1015.5,1082.2 L1013.1,1087.5 L1010.6,1092.6 L1008,1097.7 L1003.4,1095.1 L1005.9,1090.2 L1008.4,1085.2 L1010.7,1080.1 L1012.8,1074.9 L1014.8,1069.7Z" fill="#bdbbb6"/>
<path d="M1014.8,1069.7 L1012.8,1074.9 L1010.7,1080.1 L1008.4,1085.2 L1005.9,1090.2 L1003.4,1095.1 L1001.9,1094.4 L1004.5,1089.5 L1006.9,1084.5 L1009.1,1079.5 L1011.2,1074.3 L1013.2,1069.1Z" fill="#4a4946"/>
<path d="M1013.2,1069.1 L1011.2,1074.3 L1009.1,1079.5 L1006.9,1084.5 L1004.5,1089.5 L1001.9,1094.4 L998.3,1092.4 L1000.8,1087.6 L1003.1,1082.8 L1005.3,1077.8 L1007.4,1072.8 L1009.3,1067.7Z" fill="#9a9893"/>
<path d="M1009.3,1067.7 L1007.4,1072.8 L1005.3,1077.8 L1003.1,1082.8 L1000.8,1087.6 L998.3,1092.4 L992.4,1089.2 L994.8,1084.6 L997.1,1080 L999.2,1075.2 L1001.2,1070.4 L1003.1,1065.5Z" fill="#f4f4f4"/>
<path d="M1003.1,1065.5 L1001.2,1070.4 L999.2,1075.2 L997.1,1080 L994.8,1084.6 L992.4,1089.2 L984.7,1084.9 L986.9,1080.6 L989.1,1076.2 L991.1,1071.7 L993,1067.2 L994.8,1062.5Z" fill="#b5b3ae"/>
<path d="M1010.6,1092.6 L1008,1097.7 L1005.2,1102.6 L1002.2,1107.5 L999.2,1112.2 L995.9,1116.8 L991.7,1113.8 L994.8,1109.3 L997.8,1104.7 L1000.7,1100 L1003.4,1095.1 L1005.9,1090.2Z" fill="#bdbbb6"/>
<path d="M1005.9,1090.2 L1003.4,1095.1 L1000.7,1100 L997.8,1104.7 L994.8,1109.3 L991.7,1113.8 L990.3,1112.8 L993.4,1108.3 L996.4,1103.8 L999.2,1099.1 L1001.9,1094.4 L1004.5,1089.5Z" fill="#4a4946"/>
<path d="M1004.5,1089.5 L1001.9,1094.4 L999.2,1099.1 L996.4,1103.8 L993.4,1108.3 L990.3,1112.8 L986.9,1110.4 L990,1106 L992.9,1101.6 L995.6,1097 L998.3,1092.4 L1000.8,1087.6Z" fill="#9a9893"/>
<path d="M1000.8,1087.6 L998.3,1092.4 L995.6,1097 L992.9,1101.6 L990,1106 L986.9,1110.4 L981.6,1106.5 L984.5,1102.3 L987.2,1098 L989.9,1093.7 L992.4,1089.2 L994.8,1084.6Z" fill="#f4f4f4"/>
<path d="M994.8,1084.6 L992.4,1089.2 L989.9,1093.7 L987.2,1098 L984.5,1102.3 L981.6,1106.5 L974.4,1101.3 L977.1,1097.4 L979.8,1093.3 L982.3,1089.2 L984.7,1084.9 L986.9,1080.6Z" fill="#b5b3ae"/>
<path d="M999.2,1112.2 L995.9,1116.8 L992.6,1121.3 L989.1,1125.7 L985.4,1130 L981.7,1134.1 L977.9,1130.6 L981.5,1126.5 L985,1122.4 L988.4,1118.1 L991.7,1113.8 L994.8,1109.3Z" fill="#bdbbb6"/>
<path d="M994.8,1109.3 L991.7,1113.8 L988.4,1118.1 L985,1122.4 L981.5,1126.5 L977.9,1130.6 L976.6,1129.4 L980.2,1125.4 L983.7,1121.3 L987.1,1117.1 L990.3,1112.8 L993.4,1108.3Z" fill="#4a4946"/>
<path d="M993.4,1108.3 L990.3,1112.8 L987.1,1117.1 L983.7,1121.3 L980.2,1125.4 L976.6,1129.4 L973.6,1126.6 L977.1,1122.7 L980.5,1118.7 L983.8,1114.6 L986.9,1110.4 L990,1106Z" fill="#9a9893"/>
<path d="M990,1106 L986.9,1110.4 L983.8,1114.6 L980.5,1118.7 L977.1,1122.7 L973.6,1126.6 L968.8,1122.1 L972.1,1118.4 L975.4,1114.5 L978.5,1110.6 L981.6,1106.5 L984.5,1102.3Z" fill="#f4f4f4"/>
<path d="M984.5,1102.3 L981.6,1106.5 L978.5,1110.6 L975.4,1114.5 L972.1,1118.4 L968.8,1122.1 L962.3,1116.1 L965.5,1112.6 L968.6,1108.9 L971.5,1105.2 L974.4,1101.3 L977.1,1097.4Z" fill="#b5b3ae"/>
<path d="M985.4,1130 L981.7,1134.1 L977.8,1138.1 L973.8,1142 L969.7,1145.7 L965.4,1149.3 L962.1,1145.3 L966.2,1141.8 L970.2,1138.2 L974.1,1134.4 L977.9,1130.6 L981.5,1126.5Z" fill="#bdbbb6"/>
<path d="M981.5,1126.5 L977.9,1130.6 L974.1,1134.4 L970.2,1138.2 L966.2,1141.8 L962.1,1145.3 L961.1,1144.1 L965.1,1140.6 L969.1,1137 L972.9,1133.3 L976.6,1129.4 L980.2,1125.4Z" fill="#4a4946"/>
<path d="M980.2,1125.4 L976.6,1129.4 L972.9,1133.3 L969.1,1137 L965.1,1140.6 L961.1,1144.1 L958.5,1140.9 L962.4,1137.5 L966.3,1134 L970,1130.4 L973.6,1126.6 L977.1,1122.7Z" fill="#9a9893"/>
<path d="M977.1,1122.7 L973.6,1126.6 L970,1130.4 L966.3,1134 L962.4,1137.5 L958.5,1140.9 L954.3,1135.9 L958.1,1132.6 L961.7,1129.2 L965.3,1125.7 L968.8,1122.1 L972.1,1118.4Z" fill="#f4f4f4"/>
<path d="M972.1,1118.4 L968.8,1122.1 L965.3,1125.7 L961.7,1129.2 L958.1,1132.6 L954.3,1135.9 L948.7,1129.1 L952.2,1126 L955.7,1122.8 L959.1,1119.5 L962.3,1116.1 L965.5,1112.6Z" fill="#b5b3ae"/>
<path d="M969.7,1145.7 L965.4,1149.3 L961.1,1152.8 L956.7,1156.1 L952.1,1159.2 L947.4,1162.2 L944.7,1157.9 L949.2,1155 L953.6,1151.9 L957.9,1148.7 L962.1,1145.3 L966.2,1141.8Z" fill="#bdbbb6"/>
<path d="M966.2,1141.8 L962.1,1145.3 L957.9,1148.7 L953.6,1151.9 L949.2,1155 L944.7,1157.9 L943.8,1156.5 L948.3,1153.6 L952.7,1150.6 L956.9,1147.4 L961.1,1144.1 L965.1,1140.6Z" fill="#4a4946"/>
<path d="M965.1,1140.6 L961.1,1144.1 L956.9,1147.4 L952.7,1150.6 L948.3,1153.6 L943.8,1156.5 L941.7,1153.1 L946,1150.2 L950.3,1147.3 L954.4,1144.2 L958.5,1140.9 L962.4,1137.5Z" fill="#9a9893"/>
<path d="M962.4,1137.5 L958.5,1140.9 L954.4,1144.2 L950.3,1147.3 L946,1150.2 L941.7,1153.1 L938.2,1147.6 L942.4,1144.8 L946.4,1142 L950.4,1139 L954.3,1135.9 L958.1,1132.6Z" fill="#f4f4f4"/>
<path d="M958.1,1132.6 L954.3,1135.9 L950.4,1139 L946.4,1142 L942.4,1144.8 L938.2,1147.6 L933.6,1140.2 L937.5,1137.7 L941.3,1134.9 L945,1132.1 L948.7,1129.1 L952.2,1126Z" fill="#b5b3ae"/>
<path d="M952.1,1159.2 L947.4,1162.2 L942.7,1165 L937.8,1167.7 L932.9,1170.2 L927.8,1172.6 L925.8,1167.9 L930.6,1165.7 L935.4,1163.2 L940.1,1160.6 L944.7,1157.9 L949.2,1155Z" fill="#bdbbb6"/>
<path d="M949.2,1155 L944.7,1157.9 L940.1,1160.6 L935.4,1163.2 L930.6,1165.7 L925.8,1167.9 L925.1,1166.5 L929.9,1164.2 L934.6,1161.8 L939.3,1159.2 L943.8,1156.5 L948.3,1153.6Z" fill="#4a4946"/>
<path d="M948.3,1153.6 L943.8,1156.5 L939.3,1159.2 L934.6,1161.8 L929.9,1164.2 L925.1,1166.5 L923.4,1162.8 L928.1,1160.6 L932.7,1158.3 L937.2,1155.7 L941.7,1153.1 L946,1150.2Z" fill="#9a9893"/>
<path d="M946,1150.2 L941.7,1153.1 L937.2,1155.7 L932.7,1158.3 L928.1,1160.6 L923.4,1162.8 L920.8,1157 L925.3,1154.9 L929.7,1152.6 L934,1150.1 L938.2,1147.6 L942.4,1144.8Z" fill="#f4f4f4"/>
<path d="M942.4,1144.8 L938.2,1147.6 L934,1150.1 L929.7,1152.6 L925.3,1154.9 L920.8,1157 L917.3,1149.2 L921.5,1147.2 L925.6,1145 L929.6,1142.7 L933.6,1140.2 L937.5,1137.7Z" fill="#b5b3ae"/>
<path d="M932.9,1170.2 L927.8,1172.6 L922.7,1174.7 L917.5,1176.7 L912.3,1178.5 L906.9,1180.1 L905.5,1175.3 L910.7,1173.8 L915.8,1172 L920.8,1170.1 L925.8,1167.9 L930.6,1165.7Z" fill="#bdbbb6"/>
<path d="M930.6,1165.7 L925.8,1167.9 L920.8,1170.1 L915.8,1172 L910.7,1173.8 L905.5,1175.3 L905.1,1173.8 L910.2,1172.3 L915.2,1170.5 L920.2,1168.6 L925.1,1166.5 L929.9,1164.2Z" fill="#4a4946"/>
<path d="M929.9,1164.2 L925.1,1166.5 L920.2,1168.6 L915.2,1170.5 L910.2,1172.3 L905.1,1173.8 L903.9,1170.1 L908.9,1168.5 L913.8,1166.8 L918.7,1164.9 L923.4,1162.8 L928.1,1160.6Z" fill="#9a9893"/>
<path d="M928.1,1160.6 L923.4,1162.8 L918.7,1164.9 L913.8,1166.8 L908.9,1168.5 L903.9,1170.1 L902.2,1164 L906.9,1162.5 L911.6,1160.8 L916.2,1159 L920.8,1157 L925.3,1154.9Z" fill="#f4f4f4"/>
<path d="M925.3,1154.9 L920.8,1157 L916.2,1159 L911.6,1160.8 L906.9,1162.5 L902.2,1164 L899.8,1156 L904.3,1154.5 L908.7,1152.9 L913,1151.2 L917.3,1149.2 L921.5,1147.2Z" fill="#b5b3ae"/>
<path d="M912.3,1178.5 L906.9,1180.1 L901.5,1181.5 L896,1182.8 L890.5,1183.8 L884.9,1184.7 L884.2,1179.8 L889.6,1179 L895,1178 L900.3,1176.7 L905.5,1175.3 L910.7,1173.8Z" fill="#bdbbb6"/>
<path d="M910.7,1173.8 L905.5,1175.3 L900.3,1176.7 L895,1178 L889.6,1179 L884.2,1179.8 L884,1178.3 L889.3,1177.5 L894.6,1176.4 L899.9,1175.2 L905.1,1173.8 L910.2,1172.3Z" fill="#4a4946"/>
<path d="M910.2,1172.3 L905.1,1173.8 L899.9,1175.2 L894.6,1176.4 L889.3,1177.5 L884,1178.3 L883.4,1174.5 L888.6,1173.7 L893.8,1172.6 L898.9,1171.4 L903.9,1170.1 L908.9,1168.5Z" fill="#9a9893"/>
<path d="M908.9,1168.5 L903.9,1170.1 L898.9,1171.4 L893.8,1172.6 L888.6,1173.7 L883.4,1174.5 L882.5,1168.4 L887.5,1167.6 L892.5,1166.6 L897.3,1165.4 L902.2,1164 L906.9,1162.5Z" fill="#f4f4f4"/>
<path d="M906.9,1162.5 L902.2,1164 L897.3,1165.4 L892.5,1166.6 L887.5,1167.6 L882.5,1168.4 L881.3,1160.3 L886,1159.5 L890.7,1158.5 L895.3,1157.3 L899.8,1156 L904.3,1154.5Z" fill="#b5b3ae"/>
<path d="M890.5,1183.8 L884.9,1184.7 L879.2,1185.3 L873.5,1185.7 L867.8,1186 L862.2,1186 L862.1,1181.3 L867.6,1181.2 L873.2,1180.9 L878.7,1180.5 L884.2,1179.8 L889.6,1179Z" fill="#bdbbb6"/>
<path d="M889.6,1179 L884.2,1179.8 L878.7,1180.5 L873.2,1180.9 L867.6,1181.2 L862.1,1181.3 L862.1,1179.8 L867.6,1179.7 L873.1,1179.4 L878.5,1179 L884,1178.3 L889.3,1177.5Z" fill="#4a4946"/>
<path d="M889.3,1177.5 L884,1178.3 L878.5,1179 L873.1,1179.4 L867.6,1179.7 L862.1,1179.8 L862,1176 L867.4,1175.9 L872.8,1175.6 L878.1,1175.2 L883.4,1174.5 L888.6,1173.7Z" fill="#9a9893"/>
<path d="M888.6,1173.7 L883.4,1174.5 L878.1,1175.2 L872.8,1175.6 L867.4,1175.9 L862,1176 L862,1170 L867.2,1169.9 L872.4,1169.6 L877.5,1169.1 L882.5,1168.4 L887.5,1167.6Z" fill="#f4f4f4"/>
<path d="M887.5,1167.6 L882.5,1168.4 L877.5,1169.1 L872.4,1169.6 L867.2,1169.9 L862,1170 L861.9,1162 L866.9,1161.8 L871.8,1161.5 L876.6,1161 L881.3,1160.3 L886,1159.5Z" fill="#b5b3ae"/>
<path d="M867.8,1186 L862.2,1186 L860.1,1186 L858.2,1185.9 L856.3,1185.9 L854.4,1185.8 L854.6,1181.1 L856.4,1181.1 L858.3,1181.2 L860.1,1181.2 L862.1,1181.3 L867.6,1181.2Z" fill="#bdbbb6"/>
<path d="M867.6,1181.2 L862.1,1181.3 L860.1,1181.2 L858.3,1181.2 L856.4,1181.1 L854.6,1181.1 L854.6,1179.6 L856.4,1179.6 L858.3,1179.7 L860.1,1179.7 L862.1,1179.8 L867.6,1179.7Z" fill="#4a4946"/>
<path d="M867.6,1179.7 L862.1,1179.8 L860.1,1179.7 L858.3,1179.7 L856.4,1179.6 L854.6,1179.6 L854.8,1175.8 L856.6,1175.9 L858.4,1176 L860.2,1176 L862,1176 L867.4,1175.9Z" fill="#9a9893"/>
<path d="M867.4,1175.9 L862,1176 L860.2,1176 L858.4,1176 L856.6,1175.9 L854.8,1175.8 L855,1169.9 L856.7,1169.9 L858.5,1170 L860.2,1170 L862,1170 L867.2,1169.9Z" fill="#f4f4f4"/>
<path d="M867.2,1169.9 L862,1170 L860.2,1170 L858.5,1170 L856.7,1169.9 L855,1169.9 L855.3,1162 L857,1162 L858.6,1162 L860.3,1162 L861.9,1162 L866.9,1161.8Z" fill="#b5b3ae"/>
<path d="M856.3,1185.9 L854.4,1185.8 L852.5,1185.7 L850.6,1185.5 L848.8,1185.4 L846.9,1185.2 L847.3,1180.5 L849.1,1180.7 L850.9,1180.8 L852.7,1181 L854.6,1181.1 L856.4,1181.1Z" fill="#bdbbb6"/>
<path d="M856.4,1181.1 L854.6,1181.1 L852.7,1181 L850.9,1180.8 L849.1,1180.7 L847.3,1180.5 L847.4,1179.1 L849.2,1179.2 L851,1179.4 L852.8,1179.5 L854.6,1179.6 L856.4,1179.6Z" fill="#4a4946"/>
<path d="M856.4,1179.6 L854.6,1179.6 L852.8,1179.5 L851,1179.4 L849.2,1179.2 L847.4,1179.1 L847.7,1175.4 L849.5,1175.5 L851.2,1175.7 L853,1175.8 L854.8,1175.8 L856.6,1175.9Z" fill="#9a9893"/>
<path d="M856.6,1175.9 L854.8,1175.8 L853,1175.8 L851.2,1175.7 L849.5,1175.5 L847.7,1175.4 L848.2,1169.5 L849.9,1169.6 L851.6,1169.7 L853.3,1169.8 L855,1169.9 L856.7,1169.9Z" fill="#f4f4f4"/>
<path d="M856.7,1169.9 L855,1169.9 L853.3,1169.8 L851.6,1169.7 L849.9,1169.6 L848.2,1169.5 L848.9,1161.7 L850.5,1161.8 L852.1,1161.8 L853.7,1161.9 L855.3,1162 L857,1162Z" fill="#b5b3ae"/>
<path d="M848.8,1185.4 L846.9,1185.2 L845.1,1185 L843.3,1184.8 L841.5,1184.6 L839.7,1184.3 L840.3,1179.7 L842,1180 L843.8,1180.2 L845.5,1180.4 L847.3,1180.5 L849.1,1180.7Z" fill="#bdbbb6"/>
<path d="M849.1,1180.7 L847.3,1180.5 L845.5,1180.4 L843.8,1180.2 L842,1180 L840.3,1179.7 L840.5,1178.3 L842.2,1178.5 L843.9,1178.7 L845.7,1178.9 L847.4,1179.1 L849.2,1179.2Z" fill="#4a4946"/>
<path d="M849.2,1179.2 L847.4,1179.1 L845.7,1178.9 L843.9,1178.7 L842.2,1178.5 L840.5,1178.3 L841,1174.7 L842.6,1174.9 L844.3,1175.1 L846,1175.2 L847.7,1175.4 L849.5,1175.5Z" fill="#9a9893"/>
<path d="M849.5,1175.5 L847.7,1175.4 L846,1175.2 L844.3,1175.1 L842.6,1174.9 L841,1174.7 L841.7,1168.9 L843.3,1169 L845,1169.2 L846.6,1169.4 L848.2,1169.5 L849.9,1169.6Z" fill="#f4f4f4"/>
<path d="M849.9,1169.6 L848.2,1169.5 L846.6,1169.4 L845,1169.2 L843.3,1169 L841.7,1168.9 L842.8,1161.1 L844.3,1161.3 L845.8,1161.4 L847.3,1161.5 L848.9,1161.7 L850.5,1161.8Z" fill="#b5b3ae"/>
<path d="M841.5,1184.6 L839.7,1184.3 L837.9,1184 L836.2,1183.7 L834.4,1183.4 L832.7,1183.1 L833.5,1178.6 L835.2,1178.9 L836.9,1179.2 L838.6,1179.5 L840.3,1179.7 L842,1180Z" fill="#bdbbb6"/>
<path d="M842,1180 L840.3,1179.7 L838.6,1179.5 L836.9,1179.2 L835.2,1178.9 L833.5,1178.6 L833.8,1177.1 L835.5,1177.5 L837.1,1177.8 L838.8,1178 L840.5,1178.3 L842.2,1178.5Z" fill="#4a4946"/>
<path d="M842.2,1178.5 L840.5,1178.3 L838.8,1178 L837.1,1177.8 L835.5,1177.5 L833.8,1177.1 L834.5,1173.6 L836.1,1173.9 L837.7,1174.2 L839.3,1174.4 L841,1174.7 L842.6,1174.9Z" fill="#9a9893"/>
<path d="M842.6,1174.9 L841,1174.7 L839.3,1174.4 L837.7,1174.2 L836.1,1173.9 L834.5,1173.6 L835.5,1167.9 L837.1,1168.2 L838.6,1168.4 L840.2,1168.6 L841.7,1168.9 L843.3,1169Z" fill="#f4f4f4"/>
<path d="M843.3,1169 L841.7,1168.9 L840.2,1168.6 L838.6,1168.4 L837.1,1168.2 L835.5,1167.9 L837,1160.3 L838.4,1160.5 L839.8,1160.8 L841.3,1160.9 L842.8,1161.1 L844.3,1161.3Z" fill="#b5b3ae"/>
<path d="M834.4,1183.4 L832.7,1183.1 L831,1182.7 L829.3,1182.3 L827.6,1181.9 L826,1181.4 L827.1,1177.1 L828.7,1177.5 L830.3,1177.9 L831.9,1178.2 L833.5,1178.6 L835.2,1178.9Z" fill="#bdbbb6"/>
<path d="M835.2,1178.9 L833.5,1178.6 L831.9,1178.2 L830.3,1177.9 L828.7,1177.5 L827.1,1177.1 L827.4,1175.7 L829,1176.1 L830.6,1176.5 L832.2,1176.8 L833.8,1177.1 L835.5,1177.5Z" fill="#4a4946"/>
<path d="M835.5,1177.5 L833.8,1177.1 L832.2,1176.8 L830.6,1176.5 L829,1176.1 L827.4,1175.7 L828.3,1172.2 L829.8,1172.6 L831.3,1172.9 L832.9,1173.3 L834.5,1173.6 L836.1,1173.9Z" fill="#9a9893"/>
<path d="M836.1,1173.9 L834.5,1173.6 L832.9,1173.3 L831.3,1172.9 L829.8,1172.6 L828.3,1172.2 L829.7,1166.7 L831.1,1167 L832.6,1167.3 L834,1167.6 L835.5,1167.9 L837.1,1168.2Z" fill="#f4f4f4"/>
<path d="M837.1,1168.2 L835.5,1167.9 L834,1167.6 L832.6,1167.3 L831.1,1167 L829.7,1166.7 L831.5,1159.3 L832.9,1159.6 L834.2,1159.8 L835.6,1160.1 L837,1160.3 L838.4,1160.5Z" fill="#b5b3ae"/>
<path d="M827.6,1181.9 L826,1181.4 L824.3,1181 L822.7,1180.5 L821.1,1179.9 L819.5,1179.4 L820.9,1175.2 L822.4,1175.7 L823.9,1176.2 L825.5,1176.6 L827.1,1177.1 L828.7,1177.5Z" fill="#bdbbb6"/>
<path d="M828.7,1177.5 L827.1,1177.1 L825.5,1176.6 L823.9,1176.2 L822.4,1175.7 L820.9,1175.2 L821.3,1173.8 L822.8,1174.3 L824.3,1174.8 L825.9,1175.2 L827.4,1175.7 L829,1176.1Z" fill="#4a4946"/>
<path d="M829,1176.1 L827.4,1175.7 L825.9,1175.2 L824.3,1174.8 L822.8,1174.3 L821.3,1173.8 L822.4,1170.5 L823.8,1170.9 L825.3,1171.4 L826.8,1171.8 L828.3,1172.2 L829.8,1172.6Z" fill="#9a9893"/>
<path d="M829.8,1172.6 L828.3,1172.2 L826.8,1171.8 L825.3,1171.4 L823.8,1170.9 L822.4,1170.5 L824.1,1165.1 L825.5,1165.5 L826.9,1165.9 L828.3,1166.3 L829.7,1166.7 L831.1,1167Z" fill="#f4f4f4"/>
<path d="M831.1,1167 L829.7,1166.7 L828.3,1166.3 L826.9,1165.9 L825.5,1165.5 L824.1,1165.1 L826.5,1158 L827.7,1158.3 L829,1158.7 L830.2,1159 L831.5,1159.3 L832.9,1159.6Z" fill="#b5b3ae"/>
<path d="M821.1,1179.9 L819.5,1179.4 L817.9,1178.8 L816.4,1178.2 L814.8,1177.6 L813.3,1176.9 L815,1172.9 L816.4,1173.5 L817.9,1174.1 L819.4,1174.6 L820.9,1175.2 L822.4,1175.7Z" fill="#bdbbb6"/>
<path d="M822.4,1175.7 L820.9,1175.2 L819.4,1174.6 L817.9,1174.1 L816.4,1173.5 L815,1172.9 L815.5,1171.6 L816.9,1172.2 L818.4,1172.8 L819.8,1173.3 L821.3,1173.8 L822.8,1174.3Z" fill="#4a4946"/>
<path d="M822.8,1174.3 L821.3,1173.8 L819.8,1173.3 L818.4,1172.8 L816.9,1172.2 L815.5,1171.6 L816.9,1168.4 L818.2,1169 L819.6,1169.5 L821,1170 L822.4,1170.5 L823.8,1170.9Z" fill="#9a9893"/>
<path d="M823.8,1170.9 L822.4,1170.5 L821,1170 L819.6,1169.5 L818.2,1169 L816.9,1168.4 L819,1163.3 L820.2,1163.8 L821.5,1164.2 L822.8,1164.7 L824.1,1165.1 L825.5,1165.5Z" fill="#f4f4f4"/>
<path d="M825.5,1165.5 L824.1,1165.1 L822.8,1164.7 L821.5,1164.2 L820.2,1163.8 L819,1163.3 L821.8,1156.5 L822.9,1156.9 L824.1,1157.3 L825.3,1157.6 L826.5,1158 L827.7,1158.3Z" fill="#b5b3ae"/>
<path d="M814.8,1177.6 L813.3,1176.9 L811.9,1176.2 L810.4,1175.5 L808.9,1174.7 L807.5,1174 L809.5,1170.2 L810.8,1170.9 L812.2,1171.6 L813.6,1172.2 L815,1172.9 L816.4,1173.5Z" fill="#bdbbb6"/>
<path d="M816.4,1173.5 L815,1172.9 L813.6,1172.2 L812.2,1171.6 L810.8,1170.9 L809.5,1170.2 L810.1,1169 L811.5,1169.7 L812.8,1170.3 L814.2,1171 L815.5,1171.6 L816.9,1172.2Z" fill="#4a4946"/>
<path d="M816.9,1172.2 L815.5,1171.6 L814.2,1171 L812.8,1170.3 L811.5,1169.7 L810.1,1169 L811.7,1165.9 L813,1166.6 L814.2,1167.2 L815.5,1167.8 L816.9,1168.4 L818.2,1169Z" fill="#9a9893"/>
<path d="M818.2,1169 L816.9,1168.4 L815.5,1167.8 L814.2,1167.2 L813,1166.6 L811.7,1165.9 L814.2,1161.1 L815.4,1161.7 L816.5,1162.3 L817.7,1162.8 L819,1163.3 L820.2,1163.8Z" fill="#f4f4f4"/>
<path d="M820.2,1163.8 L819,1163.3 L817.7,1162.8 L816.5,1162.3 L815.4,1161.7 L814.2,1161.1 L817.5,1154.7 L818.6,1155.2 L819.6,1155.6 L820.7,1156.1 L821.8,1156.5 L822.9,1156.9Z" fill="#b5b3ae"/>
<path d="M808.9,1174.7 L807.5,1174 L806.1,1173.1 L804.8,1172.3 L803.4,1171.4 L802.1,1170.5 L804.4,1167 L805.6,1167.8 L806.9,1168.6 L808.2,1169.4 L809.5,1170.2 L810.8,1170.9Z" fill="#bdbbb6"/>
<path d="M810.8,1170.9 L809.5,1170.2 L808.2,1169.4 L806.9,1168.6 L805.6,1167.8 L804.4,1167 L805.1,1165.9 L806.3,1166.7 L807.6,1167.5 L808.8,1168.2 L810.1,1169 L811.5,1169.7Z" fill="#4a4946"/>
<path d="M811.5,1169.7 L810.1,1169 L808.8,1168.2 L807.6,1167.5 L806.3,1166.7 L805.1,1165.9 L806.9,1163.1 L808.1,1163.9 L809.3,1164.6 L810.5,1165.3 L811.7,1165.9 L813,1166.6Z" fill="#9a9893"/>
<path d="M813,1166.6 L811.7,1165.9 L810.5,1165.3 L809.3,1164.6 L808.1,1163.9 L806.9,1163.1 L809.8,1158.7 L810.9,1159.3 L812,1159.9 L813.1,1160.6 L814.2,1161.1 L815.4,1161.7Z" fill="#f4f4f4"/>
<path d="M815.4,1161.7 L814.2,1161.1 L813.1,1160.6 L812,1159.9 L810.9,1159.3 L809.8,1158.7 L813.7,1152.8 L814.6,1153.3 L815.6,1153.8 L816.5,1154.3 L817.5,1154.7 L818.6,1155.2Z" fill="#b5b3ae"/>
<path d="M803.4,1171.4 L802.1,1170.5 L800.8,1169.6 L799.6,1168.6 L798.4,1167.6 L797.2,1166.5 L799.7,1163.4 L800.9,1164.3 L802,1165.2 L803.2,1166.1 L804.4,1167 L805.6,1167.8Z" fill="#bdbbb6"/>
<path d="M805.6,1167.8 L804.4,1167 L803.2,1166.1 L802,1165.2 L800.9,1164.3 L799.7,1163.4 L800.6,1162.4 L801.7,1163.3 L802.8,1164.2 L803.9,1165.1 L805.1,1165.9 L806.3,1166.7Z" fill="#4a4946"/>
<path d="M806.3,1166.7 L805.1,1165.9 L803.9,1165.1 L802.8,1164.2 L801.7,1163.3 L800.6,1162.4 L802.6,1159.9 L803.6,1160.7 L804.7,1161.6 L805.8,1162.3 L806.9,1163.1 L808.1,1163.9Z" fill="#9a9893"/>
<path d="M808.1,1163.9 L806.9,1163.1 L805.8,1162.3 L804.7,1161.6 L803.6,1160.7 L802.6,1159.9 L805.9,1155.9 L806.8,1156.6 L807.8,1157.3 L808.8,1158 L809.8,1158.7 L810.9,1159.3Z" fill="#f4f4f4"/>
<path d="M810.9,1159.3 L809.8,1158.7 L808.8,1158 L807.8,1157.3 L806.8,1156.6 L805.9,1155.9 L810.2,1150.6 L811.1,1151.1 L811.9,1151.7 L812.8,1152.2 L813.7,1152.8 L814.6,1153.3Z" fill="#b5b3ae"/>
<path d="M798.4,1167.6 L797.2,1166.5 L796,1165.5 L794.9,1164.4 L793.8,1163.2 L792.7,1162.1 L795.6,1159.3 L796.6,1160.4 L797.6,1161.4 L798.7,1162.4 L799.7,1163.4 L800.9,1164.3Z" fill="#bdbbb6"/>
<path d="M800.9,1164.3 L799.7,1163.4 L798.7,1162.4 L797.6,1161.4 L796.6,1160.4 L795.6,1159.3 L796.5,1158.4 L797.5,1159.5 L798.5,1160.5 L799.5,1161.4 L800.6,1162.4 L801.7,1163.3Z" fill="#4a4946"/>
<path d="M801.7,1163.3 L800.6,1162.4 L799.5,1161.4 L798.5,1160.5 L797.5,1159.5 L796.5,1158.4 L798.7,1156.3 L799.7,1157.2 L800.6,1158.1 L801.6,1159 L802.6,1159.9 L803.6,1160.7Z" fill="#9a9893"/>
<path d="M803.6,1160.7 L802.6,1159.9 L801.6,1159 L800.6,1158.1 L799.7,1157.2 L798.7,1156.3 L802.4,1152.8 L803.2,1153.6 L804.1,1154.4 L805,1155.1 L805.9,1155.9 L806.8,1156.6Z" fill="#f4f4f4"/>
<path d="M806.8,1156.6 L805.9,1155.9 L805,1155.1 L804.1,1154.4 L803.2,1153.6 L802.4,1152.8 L807.2,1148.1 L807.9,1148.8 L808.6,1149.4 L809.4,1150 L810.2,1150.6 L811.1,1151.1Z" fill="#b5b3ae"/>
<path d="M793.8,1163.2 L792.7,1162.1 L791.7,1160.9 L790.7,1159.6 L789.8,1158.4 L789,1157.2 L792,1154.9 L792.8,1155.9 L793.7,1157.1 L794.6,1158.2 L795.6,1159.3 L796.6,1160.4Z" fill="#bdbbb6"/>
<path d="M796.6,1160.4 L795.6,1159.3 L794.6,1158.2 L793.7,1157.1 L792.8,1155.9 L792,1154.9 L793,1154.1 L793.8,1155.2 L794.6,1156.3 L795.6,1157.4 L796.5,1158.4 L797.5,1159.5Z" fill="#4a4946"/>
<path d="M797.5,1159.5 L796.5,1158.4 L795.6,1157.4 L794.6,1156.3 L793.8,1155.2 L793,1154.1 L795.4,1152.2 L796.2,1153.3 L797,1154.3 L797.9,1155.3 L798.7,1156.3 L799.7,1157.2Z" fill="#9a9893"/>
<path d="M799.7,1157.2 L798.7,1156.3 L797.9,1155.3 L797,1154.3 L796.2,1153.3 L795.4,1152.2 L799.3,1149.3 L800,1150.2 L800.8,1151.1 L801.5,1151.9 L802.4,1152.8 L803.2,1153.6Z" fill="#f4f4f4"/>
<path d="M803.2,1153.6 L802.4,1152.8 L801.5,1151.9 L800.8,1151.1 L800,1150.2 L799.3,1149.3 L804.4,1145.3 L805.1,1146.1 L805.8,1146.8 L806.5,1147.5 L807.2,1148.1 L807.9,1148.8Z" fill="#b5b3ae"/>

<path d="M1663,1000 L1663,885 C1663,862 1680,851 1698,851 C1716,851 1728,860 1735,866 C1742,858 1755,849 1772,849 C1792,849 1807,862 1807,885 L1811,1128 C1811,1150 1795,1160 1776,1160 C1758,1160 1746,1152 1739,1146 C1732,1152 1720,1161 1702,1161 C1682,1161 1664,1150 1664,1128 Z" fill="#1c1c1c" clip-path="url(#slclip)"/>
<path d="M1663,1000 L1663,885 C1663,862 1680,851 1698,851 C1716,851 1728,860 1735,866 C1742,858 1755,849 1772,849 C1792,849 1807,862 1807,885 L1811,1128 C1811,1150 1795,1160 1776,1160 C1758,1160 1746,1152 1739,1146 C1732,1152 1720,1161 1702,1161 C1682,1161 1664,1150 1664,1128 Z" fill="none" stroke="#1e1f20" stroke-width="19.5" stroke-linejoin="round"/>
<path d="M1672,880 C1672,866 1684,860 1698,860 C1712,860 1722,866 1728,872 M1743,872 C1750,864 1760,858 1772,858 C1788,858 1798,868 1798,882" fill="none" stroke="#444" stroke-width="1.8"/>
<path d="M1673,1130 C1673,1144 1686,1152 1702,1152 C1716,1152 1726,1146 1732,1140 M1746,1140 C1753,1147 1763,1152 1776,1152 C1792,1152 1802,1142 1802,1128" fill="none" stroke="#444" stroke-width="1.8"/>

</svg>
</body></html>
